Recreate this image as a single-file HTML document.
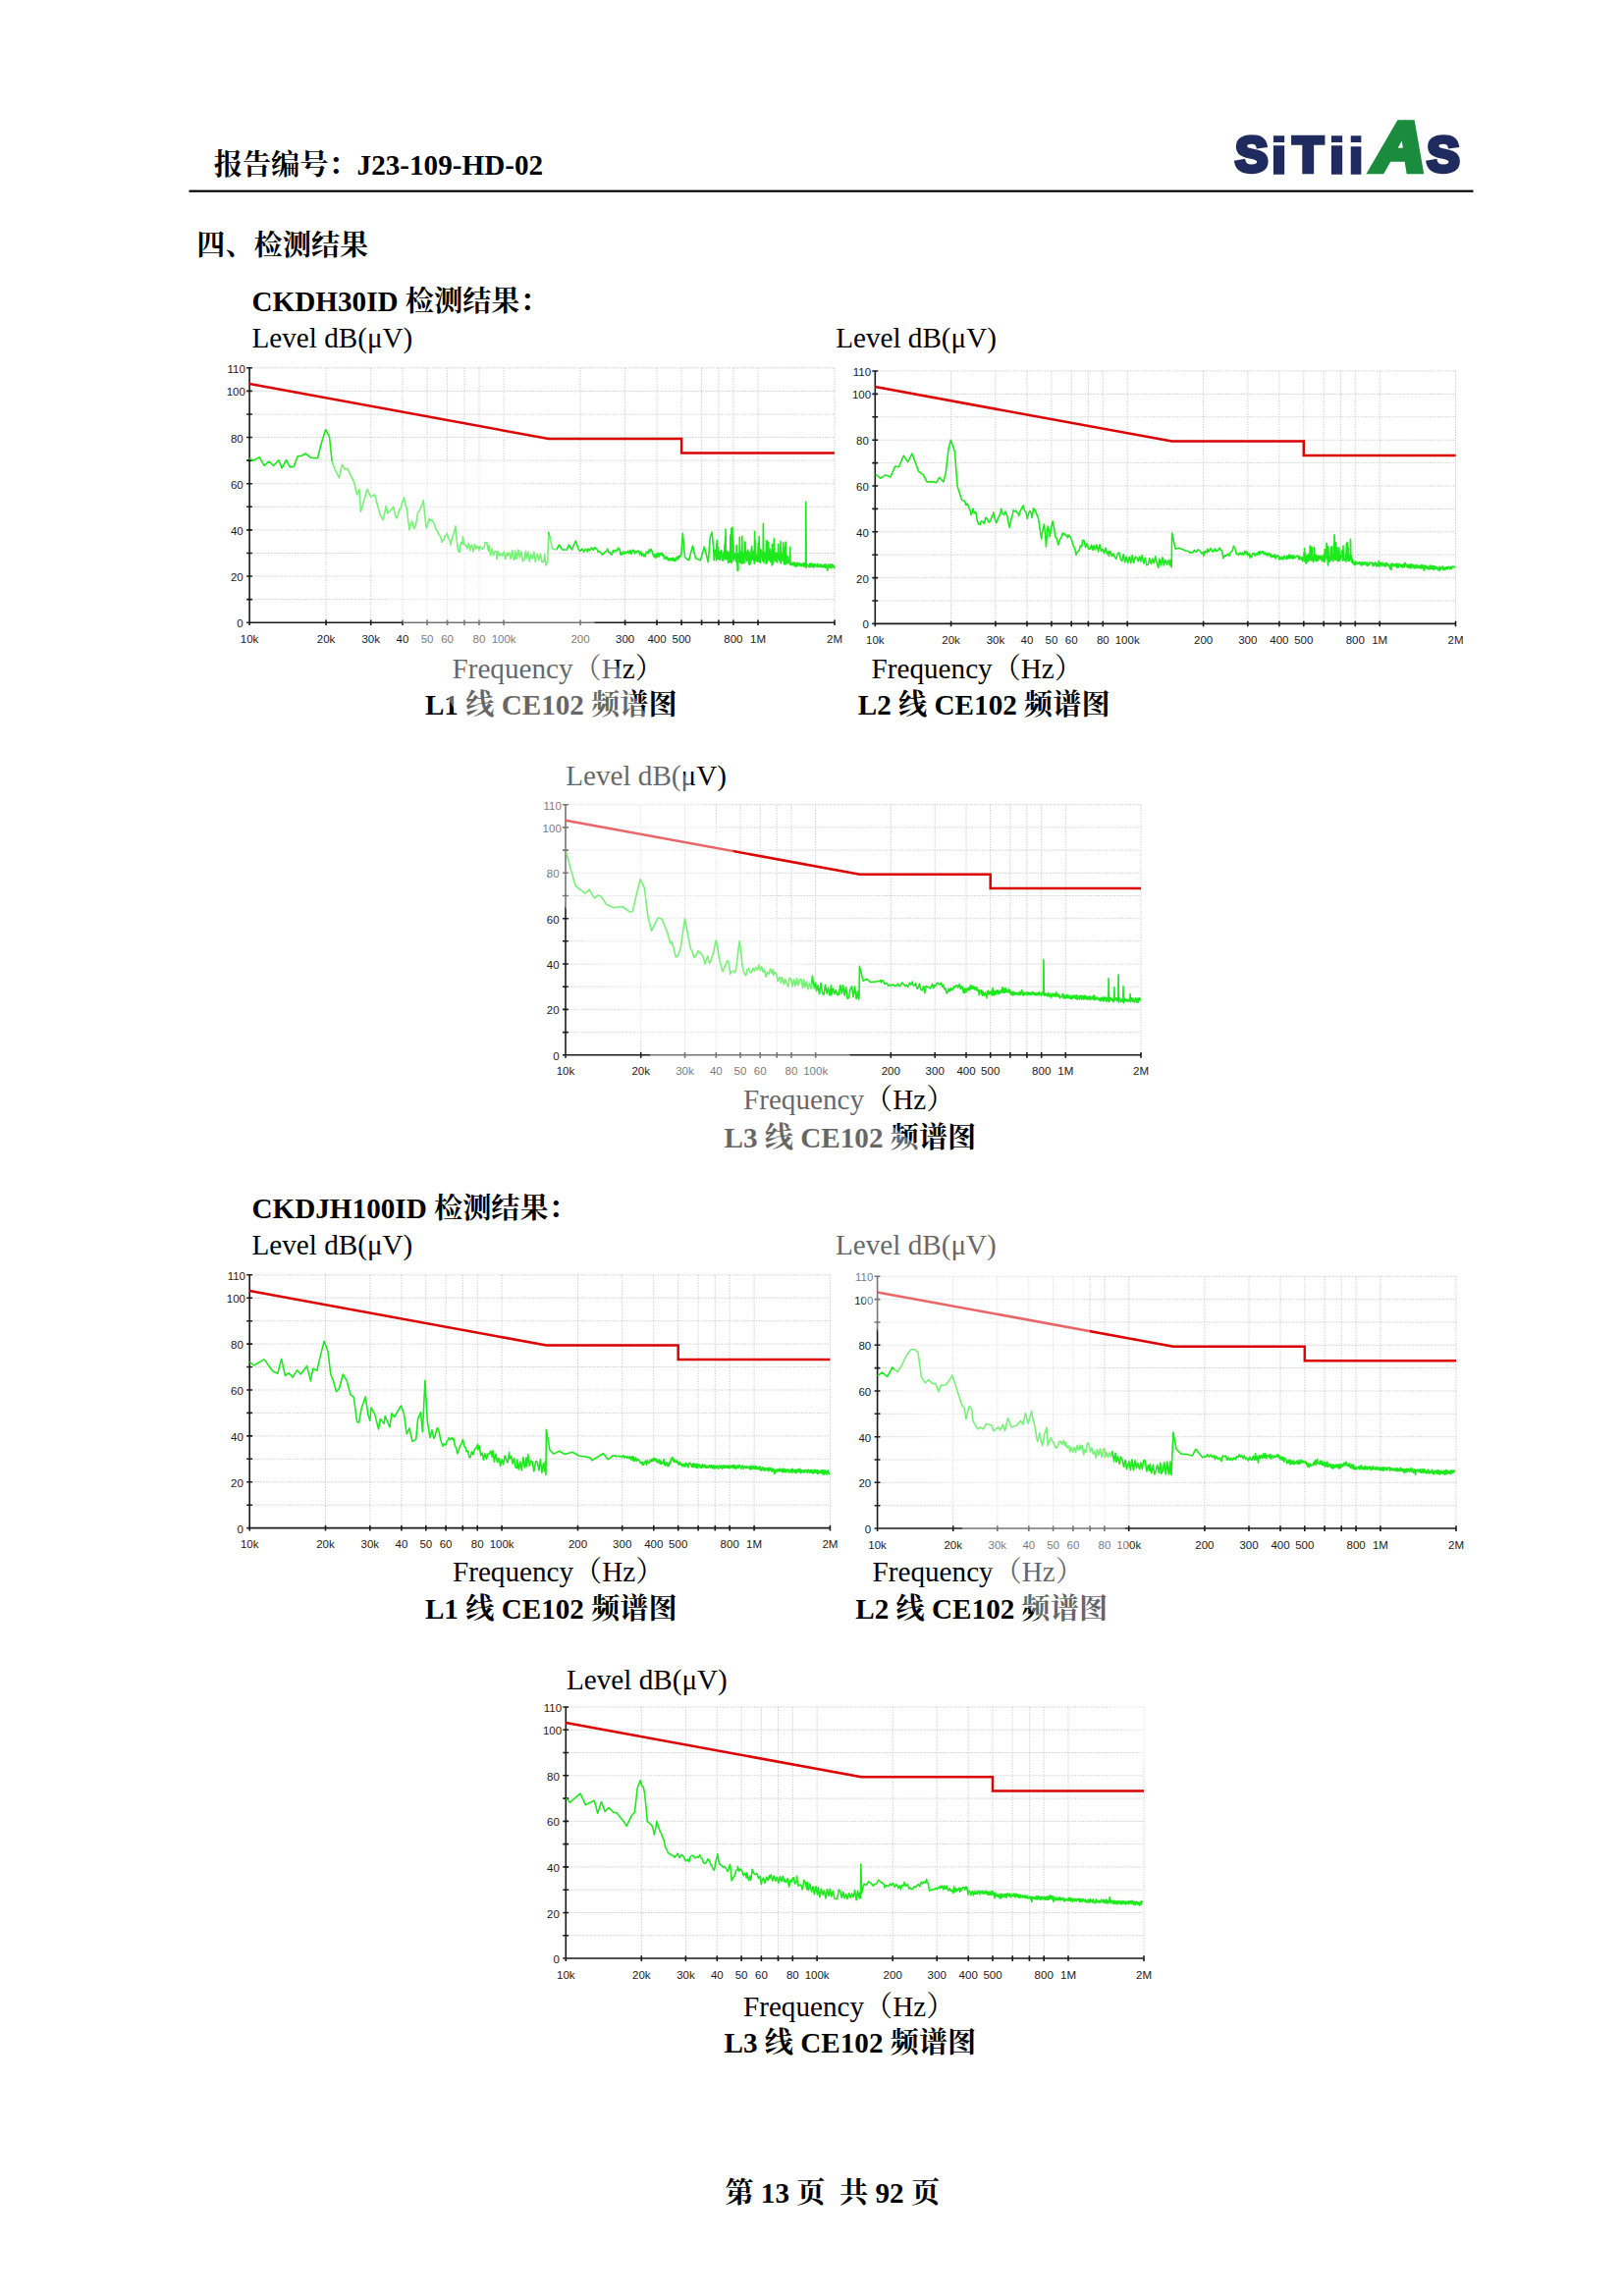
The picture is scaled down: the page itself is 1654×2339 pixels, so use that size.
<!DOCTYPE html>
<html lang="zh-CN"><head><meta charset="utf-8"><title>报告编号：J23-109-HD-02</title>
<style>html,body{margin:0;padding:0;background:#fff;}body{width:1654px;height:2339px;overflow:hidden;}svg{display:block;}</style>
</head><body>
<svg width="1654" height="2339" viewBox="0 0 1654 2339">
<text x="217.8" y="177.5" font-family='"Liberation Serif", "Noto Serif CJK SC", serif' font-size="29.17" font-weight="bold" fill="#000" >报告编号：<tspan font-family='"Liberation Serif", serif'>J23-109-HD-02</tspan></text>
<rect x="192.5" y="193.6" width="1308" height="2.2" fill="#000"/>
<text x="200.3" y="259.5" font-family='"Liberation Serif", "Noto Serif CJK SC", serif' font-size="29.17" font-weight="bold" fill="#000" >四、检测结果</text>
<text x="256.5" y="316.6" font-family='"Liberation Serif", "Noto Serif CJK SC", serif' font-size="29.17" font-weight="bold" fill="#000" >CKDH30ID 检测结果：</text>
<text x="256.5" y="1240.8" font-family='"Liberation Serif", "Noto Serif CJK SC", serif' font-size="29.17" font-weight="bold" fill="#000" >CKDJH100ID 检测结果：</text>
<text x="256.5" y="353.7" font-family='"Liberation Serif", "Noto Serif CJK SC", serif' font-size="29.17" font-weight="normal" fill="#000" >Level dB(μV)</text>
<text x="851.2" y="353.9" font-family='"Liberation Serif", "Noto Serif CJK SC", serif' font-size="29.17" font-weight="normal" fill="#000" >Level dB(μV)</text>
<text x="576.2" y="799.7" font-family='"Liberation Serif", "Noto Serif CJK SC", serif' font-size="29.17" font-weight="normal" fill="#000" >Level dB(μV)</text>
<text x="256.5" y="1277.7" font-family='"Liberation Serif", "Noto Serif CJK SC", serif' font-size="29.17" font-weight="normal" fill="#000" >Level dB(μV)</text>
<text x="851.0" y="1277.7" font-family='"Liberation Serif", "Noto Serif CJK SC", serif' font-size="29.17" font-weight="normal" fill="#000" >Level dB(μV)</text>
<text x="577.0" y="1720.8" font-family='"Liberation Serif", "Noto Serif CJK SC", serif' font-size="29.17" font-weight="normal" fill="#000" >Level dB(μV)</text>
<text x="460.5" y="690.7" font-family='"Liberation Serif", "Noto Serif CJK SC", serif' font-size="29.17" font-weight="normal" fill="#000" >Frequency（Hz）</text>
<text x="887.6" y="690.7" font-family='"Liberation Serif", "Noto Serif CJK SC", serif' font-size="29.17" font-weight="normal" fill="#000" >Frequency（Hz）</text>
<text x="757.0" y="1130.3" font-family='"Liberation Serif", "Noto Serif CJK SC", serif' font-size="29.17" font-weight="normal" fill="#000" >Frequency（Hz）</text>
<text x="461.0" y="1610.7" font-family='"Liberation Serif", "Noto Serif CJK SC", serif' font-size="29.17" font-weight="normal" fill="#000" >Frequency（Hz）</text>
<text x="888.6" y="1610.7" font-family='"Liberation Serif", "Noto Serif CJK SC", serif' font-size="29.17" font-weight="normal" fill="#000" >Frequency（Hz）</text>
<text x="757.0" y="2053.8" font-family='"Liberation Serif", "Noto Serif CJK SC", serif' font-size="29.17" font-weight="normal" fill="#000" >Frequency（Hz）</text>
<text x="432.9" y="728.3" font-family='"Liberation Serif", "Noto Serif CJK SC", serif' font-size="29.17" font-weight="bold" fill="#000" >L1 线 CE102 频谱图</text>
<text x="873.8" y="728.3" font-family='"Liberation Serif", "Noto Serif CJK SC", serif' font-size="29.17" font-weight="bold" fill="#000" >L2 线 CE102 频谱图</text>
<text x="737.5" y="1168.5" font-family='"Liberation Serif", "Noto Serif CJK SC", serif' font-size="29.17" font-weight="bold" fill="#000" >L3 线 CE102 频谱图</text>
<text x="432.9" y="1648.6" font-family='"Liberation Serif", "Noto Serif CJK SC", serif' font-size="29.17" font-weight="bold" fill="#000" >L1 线 CE102 频谱图</text>
<text x="871.3" y="1648.6" font-family='"Liberation Serif", "Noto Serif CJK SC", serif' font-size="29.17" font-weight="bold" fill="#000" >L2 线 CE102 频谱图</text>
<text x="737.5" y="2091.3" font-family='"Liberation Serif", "Noto Serif CJK SC", serif' font-size="29.17" font-weight="bold" fill="#000" >L3 线 CE102 频谱图</text>
<text x="738.4" y="2243.5" font-family='"Liberation Serif", "Noto Serif CJK SC", serif' font-size="29.17" font-weight="bold" fill="#000" xml:space="preserve">第 13 页&#160; 共 92 页</text>
<path d="M332.1 374.8V634.2M377.7 374.8V634.2M410.0 374.8V634.2M435.1 374.8V634.2M455.6 374.8V634.2M473.0 374.8V634.2M488.0 374.8V634.2M513.1 374.8V634.2M591.0 374.8V634.2M636.6 374.8V634.2M669.0 374.8V634.2M694.1 374.8V634.2M714.6 374.8V634.2M731.9 374.8V634.2M746.9 374.8V634.2M772.0 374.8V634.2M850.0 374.8V634.2M254.1 610.6H850.0M254.1 587.0H850.0M254.1 563.5H850.0M254.1 539.9H850.0M254.1 516.3H850.0M254.1 492.7H850.0M254.1 469.1H850.0M254.1 445.5H850.0M254.1 422.0H850.0M254.1 398.4H850.0M254.1 374.8H850.0" stroke="#cacaca" stroke-width="1" stroke-dasharray="1.3 1.4" fill="none"/>
<path d="M254.1 374.8V634.2H850.5M251.1 634.2h5.8M251.1 610.6h5.8M251.1 587.0h5.8M251.1 563.5h5.8M251.1 539.9h5.8M251.1 516.3h5.8M251.1 492.7h5.8M251.1 469.1h5.8M251.1 445.5h5.8M251.1 422.0h5.8M251.1 398.4h5.8M251.1 374.8h5.8M254.1 631.5v5.6M332.1 631.5v5.6M377.7 631.5v5.6M410.0 631.5v5.6M435.1 631.5v5.6M455.6 631.5v5.6M473.0 631.5v5.6M488.0 631.5v5.6M513.1 631.5v5.6M591.0 631.5v5.6M636.6 631.5v5.6M669.0 631.5v5.6M694.1 631.5v5.6M714.6 631.5v5.6M731.9 631.5v5.6M746.9 631.5v5.6M772.0 631.5v5.6M850.0 631.5v5.6" stroke="#1a1a1a" stroke-width="1.6" fill="none"/>
<g font-family='"Liberation Sans", sans-serif' font-size="11.5" fill="#1a1a1a"><text x="247.7" y="639.2" text-anchor="end">0</text><text x="247.7" y="592.0" text-anchor="end">20</text><text x="247.7" y="544.9" text-anchor="end">40</text><text x="247.7" y="497.7" text-anchor="end">60</text><text x="247.7" y="450.5" text-anchor="end">80</text><text x="249.9" y="403.4" text-anchor="end">100</text><text x="249.9" y="379.8" text-anchor="end">110</text><text x="254.1" y="654.8" text-anchor="middle">10k</text><text x="332.1" y="654.8" text-anchor="middle">20k</text><text x="377.7" y="654.8" text-anchor="middle">30k</text><text x="410.0" y="654.8" text-anchor="middle">40</text><text x="435.1" y="654.8" text-anchor="middle">50</text><text x="455.6" y="654.8" text-anchor="middle">60</text><text x="488.0" y="654.8" text-anchor="middle">80</text><text x="513.1" y="654.8" text-anchor="middle">100k</text><text x="591.0" y="654.8" text-anchor="middle">200</text><text x="636.6" y="654.8" text-anchor="middle">300</text><text x="669.0" y="654.8" text-anchor="middle">400</text><text x="694.1" y="654.8" text-anchor="middle">500</text><text x="746.9" y="654.8" text-anchor="middle">800</text><text x="772.0" y="654.8" text-anchor="middle">1M</text><text x="850.0" y="654.8" text-anchor="middle">2M</text></g>
<path d="M254.1 467.0 257.6 469.2 264.3 465.8 269.1 474.4 273.9 470.0 278.6 474.4 284.0 468.7 287.2 476.9 291.6 468.7 295.4 475.9 299.2 475.4 303.1 464.9 307.3 464.3 311.1 462.0 316.8 466.4 323.5 466.8 327.3 451.5 331.7 437.6 335.5 444.8 338.2 470.6 341.6 479.2 345.4 486.8 348.3 473.4 351.2 478.2 354.0 477.3 360.7 491.6 363.6 504.0 366.0 498.3 367.4 521.2 374.1 498.3 377.5 505.9 381.7 504.0 387.0 524.0 390.3 529.8 393.2 515.4 395.0 523.0 400.8 516.3 402.3 524.2 403.7 527.9 405.2 525.1 406.7 519.2 408.2 517.8 409.7 511.2 411.2 509.0 411.3 506.5 412.8 514.1 414.2 517.2 415.7 529.9 417.0 539.8 418.5 533.7 419.9 531.1 421.4 537.7 421.8 538.3 423.3 535.4 424.8 527.7 425.6 521.9 427.1 520.8 428.5 516.9 430.0 514.1 431.3 509.7 432.8 526.2 434.2 537.9 435.7 534.0 437.1 528.1 438.6 530.3 440.1 529.9 440.9 531.3 442.4 533.7 443.9 539.0 445.4 541.0 445.6 541.3 447.1 544.6 448.6 546.9 450.1 552.3 450.4 550.3 451.9 550.1 453.4 545.5 454.9 545.2 455.2 543.4 456.7 548.2 458.2 550.3 459.0 555.0 460.5 547.9 462.0 544.0 463.5 538.0 463.8 535.9 465.3 551.2 466.6 560.9 468.1 562.5 469.6 552.3 471.1 554.4 471.4 546.6 472.9 554.7 474.4 555.4 475.9 558.8 477.4 553.5 478.9 560.9 479.0 557.9 480.5 555.1 482.0 561.8 483.5 554.6 485.0 559.0 486.5 556.1 488.0 560.6 488.6 556.5 490.1 558.4 491.6 559.4 493.1 557.6 494.3 552.5 495.8 552.7 497.3 561.2 498.1 555.7 499.6 565.8 501.1 559.1 502.6 565.6 504.1 561.6 505.6 562.1 505.8 569.5 507.3 561.7 508.8 566.1 510.3 563.9 511.8 566.6 513.3 562.0 514.8 569.6 516.3 563.0 517.2 566.1 518.7 563.1 520.2 569.2 521.7 560.6 523.2 570.1 524.7 569.3 524.9 561.1 526.4 568.9 527.9 560.1 529.4 567.9 530.9 561.9 532.4 571.7 533.9 570.3 535.4 561.3 536.3 568.6 537.8 562.1 539.3 572.1 540.8 565.0 542.3 568.9 543.8 562.3 545.3 572.7 545.9 568.6 547.4 564.4 548.9 570.7 550.4 564.3 551.9 572.5 553.4 572.8 554.9 564.8 556.0 576.0 557.5 572.6 557.7 572.8 558.7 542.2 562.7 559.0 566.6 560.0 569.6 555.0 572.5 560.0 577.4 560.0 579.4 555.0 582.4 560.0 586.3 551.0 589.3 559.6 591.1 561.5 592.9 559.0 594.7 562.2 596.4 559.2 598.2 561.9 599.1 559.0 600.8 560.7 602.4 558.0 604.1 560.3 605.7 557.5 606.0 558.7 607.6 558.7 609.1 562.1 610.7 561.7 611.9 563.1 613.4 565.2 614.9 563.5 616.3 562.4 617.8 561.3 618.8 559.2 620.2 562.9 621.6 562.5 621.8 564.7 623.2 565.1 624.5 560.5 625.9 562.1 627.2 560.1 628.5 561.1 629.7 558.2 631.0 559.2 632.2 565.3 632.6 562.9 633.8 564.8 635.1 561.9 636.3 564.4 637.5 562.3 638.5 563.3 639.7 561.2 640.8 563.8 642.0 560.5 643.1 564.4 644.3 560.6 645.4 560.4 646.5 563.9 647.6 561.5 648.4 562.4 649.5 561.1 650.6 561.5 651.6 564.9 652.7 562.0 653.7 566.3 654.7 563.7 655.8 566.7 656.3 564.9 657.3 567.0 658.3 562.2 659.3 561.9 660.3 563.9 661.3 559.7 662.2 561.5 663.2 559.5 663.2 561.3 664.1 561.3 665.1 565.3 666.0 566.2 666.1 567.5 667.0 564.6 667.9 568.2 668.8 563.9 669.7 567.5 670.6 563.2 671.5 566.9 672.4 563.9 673.3 564.9 674.0 563.3 674.9 566.2 675.7 564.9 676.6 569.2 677.4 567.4 677.9 567.1 678.7 569.8 679.6 567.6 680.4 569.8 681.2 571.1 682.0 568.7 682.8 570.7 683.6 568.8 684.4 570.8 685.2 568.3 686.0 571.3 686.7 569.1 687.5 571.5 687.8 569.0 688.6 570.8 689.3 567.5 690.1 567.2 690.8 569.7 691.6 566.0 692.3 567.7 693.1 565.5 693.7 565.9 695.3 543.2 697.6 567.8 701.6 570.8 705.5 556.0 708.5 568.8 713.4 570.8 717.3 557.0 721.3 572.8 723.3 547.1 725.2 542.2 726.0 552.1 726.7 558.1 727.2 570.7 728.0 561.4 728.7 560.3 729.5 571.2 729.5 567.9 729.8 553.5 730.2 569.4 730.2 563.0 730.0 563.1 730.3 550.3 730.7 564.6 731.0 563.8 731.3 568.3 731.6 557.5 732.0 569.8 731.7 569.3 732.5 564.1 732.7 568.4 733.0 561.9 733.4 569.9 733.2 570.3 734.0 564.3 734.7 560.6 735.5 570.5 736.2 571.1 737.0 562.6 737.7 568.3 738.0 568.4 737.7 565.7 738.0 554.2 738.4 567.2 738.3 556.0 738.7 569.9 738.5 568.4 738.7 563.5 738.5 552.1 738.8 545.8 739.2 553.6 739.0 539.3 739.4 565.0 739.2 561.7 740.0 569.2 740.7 561.6 741.5 573.1 742.2 562.8 743.0 573.0 743.7 562.2 743.6 564.7 743.9 545.1 744.3 566.2 744.5 572.7 744.6 572.1 744.9 538.3 745.3 573.6 745.2 571.8 745.3 566.9 745.6 558.8 745.5 563.7 745.8 545.3 745.6 549.4 745.9 537.0 746.3 550.9 746.2 565.2 746.0 568.4 746.0 561.6 746.7 569.3 746.6 569.6 746.5 564.8 746.8 551.1 747.2 566.3 746.9 561.3 747.3 571.1 747.5 570.5 748.2 563.7 749.0 565.7 749.7 572.2 749.9 567.5 750.2 555.5 750.6 569.0 750.5 565.7 751.2 581.2 751.0 579.9 751.3 573.3 751.2 578.6 751.5 563.9 751.9 580.1 751.7 581.4 752.0 565.2 752.7 572.8 753.0 566.9 753.3 547.1 753.7 568.4 753.5 565.2 753.8 572.1 754.1 563.5 754.5 573.6 754.2 573.1 755.0 561.8 755.7 574.0 755.5 572.6 755.8 546.2 756.2 574.1 756.5 563.4 757.2 570.4 758.0 573.7 758.1 567.2 758.4 552.1 758.8 568.7 758.7 563.7 758.7 563.3 759.0 552.2 759.4 564.8 759.5 562.9 760.0 572.0 760.8 562.6 761.2 569.8 761.5 560.1 761.9 571.3 761.5 570.3 762.2 561.8 763.0 575.0 762.8 574.0 763.1 562.5 763.5 575.5 763.8 565.9 764.5 574.0 764.9 567.3 765.2 558.2 765.6 568.8 765.2 566.3 765.4 568.5 765.7 556.4 766.1 570.0 766.0 570.1 766.8 561.6 767.5 565.2 767.7 571.2 768.0 561.5 768.4 572.7 768.2 574.5 768.3 570.4 768.6 541.2 769.0 571.9 769.0 565.7 769.1 568.1 769.4 551.0 769.8 569.6 769.8 570.4 770.5 565.2 771.2 572.1 772.0 563.3 771.9 566.2 772.2 553.2 772.6 567.7 772.8 572.1 772.6 568.9 772.9 561.7 772.8 565.0 773.1 546.6 773.5 566.5 773.3 570.4 773.5 557.7 774.2 573.5 774.3 566.3 774.6 559.8 775.0 567.8 775.0 560.1 775.8 562.8 776.5 571.3 777.2 565.6 777.1 567.1 777.4 533.3 777.8 568.6 778.0 573.3 778.8 563.3 779.5 564.3 780.2 574.1 780.1 572.6 780.4 551.0 780.8 574.1 780.6 571.5 780.9 553.8 780.9 568.8 781.2 550.7 781.6 570.3 781.3 573.0 781.0 566.7 781.8 570.8 782.5 564.2 782.4 566.4 782.7 552.3 783.1 567.9 783.2 570.7 784.0 566.9 784.0 568.9 784.3 559.6 784.7 570.4 784.8 572.5 784.8 568.1 785.1 561.5 785.5 569.6 785.5 563.2 786.2 576.0 786.1 574.0 786.4 554.2 786.8 575.5 787.0 563.9 787.8 573.3 787.6 569.0 787.9 560.0 788.3 570.5 788.0 567.8 788.3 553.0 788.1 555.6 788.4 548.7 788.8 557.1 788.7 569.3 788.5 565.8 789.2 570.5 789.0 570.2 789.3 563.2 789.7 571.7 790.0 563.6 790.8 570.8 790.7 571.5 791.0 563.1 791.4 573.0 791.5 572.8 792.2 566.9 792.5 565.6 792.8 554.3 793.2 567.1 793.0 565.0 793.8 571.0 794.5 566.7 794.9 572.5 794.8 559.9 795.1 551.4 795.5 561.4 795.2 552.0 795.6 574.0 795.2 572.9 796.0 563.1 796.8 570.7 797.5 563.3 797.5 566.8 797.8 552.8 798.2 568.3 798.2 572.9 799.0 575.0 799.4 567.4 799.7 556.3 800.1 568.9 799.8 567.2 800.0 574.5 799.8 573.2 800.1 552.0 800.5 574.7 800.8 565.0 801.5 573.3 802.2 566.9 803.0 573.7 803.8 571.0 804.5 574.1 804.4 574.0 804.7 557.3 805.1 575.5 805.2 573.5 806.0 575.8 806.8 573.5 807.5 575.6 808.2 572.9 809.0 576.3 809.8 573.3 810.5 577.5 811.2 576.4 812.0 573.1 812.8 576.5 813.5 574.8 814.2 573.6 815.0 576.4 815.8 574.7 816.5 576.6 817.2 574.1 818.0 576.6 818.8 573.5 819.5 577.5 820.2 574.8 820.5 576.9 820.8 511.3 821.2 578.4 821.0 577.6 821.8 575.0 822.5 575.3 823.2 576.7 824.0 577.6 824.8 574.4 825.5 577.8 826.2 573.8 827.0 576.6 827.8 577.8 828.5 574.9 829.2 577.9 830.0 574.5 830.8 575.5 831.5 577.0 832.2 577.7 833.0 574.2 833.8 577.0 834.5 575.5 835.2 577.8 836.0 574.8 836.8 577.1 837.5 577.9 838.2 575.8 839.0 577.7 839.8 575.1 840.5 578.3 841.2 574.9 842.0 577.9 842.8 581.2 843.5 575.0 844.2 575.5 845.0 578.2 845.8 575.1 846.5 578.6 847.2 574.9 848.0 577.6 848.8 575.8 849.5 578.7 850.0 577.0" stroke="#1ee81e" stroke-width="1.6" fill="none" stroke-linejoin="round"/>
<path d="M254.1 391.1 L558.7 447.0 L694.1 447.0 L694.1 461.6 L850.0 461.6" stroke="#dc0000" stroke-width="2.5" fill="none"/>
<path d="M968.6 378.0V635.4M1013.9 378.0V635.4M1046.0 378.0V635.4M1070.9 378.0V635.4M1091.2 378.0V635.4M1108.4 378.0V635.4M1123.3 378.0V635.4M1148.2 378.0V635.4M1225.6 378.0V635.4M1270.8 378.0V635.4M1302.9 378.0V635.4M1327.8 378.0V635.4M1348.2 378.0V635.4M1365.4 378.0V635.4M1380.3 378.0V635.4M1405.2 378.0V635.4M1482.5 378.0V635.4M891.3 612.0H1482.5M891.3 588.6H1482.5M891.3 565.2H1482.5M891.3 541.8H1482.5M891.3 518.4H1482.5M891.3 495.0H1482.5M891.3 471.6H1482.5M891.3 448.2H1482.5M891.3 424.8H1482.5M891.3 401.4H1482.5M891.3 378.0H1482.5" stroke="#cacaca" stroke-width="1" stroke-dasharray="1.3 1.4" fill="none"/>
<path d="M891.3 378.0V635.4H1483.0M888.3 635.4h5.8M888.3 612.0h5.8M888.3 588.6h5.8M888.3 565.2h5.8M888.3 541.8h5.8M888.3 518.4h5.8M888.3 495.0h5.8M888.3 471.6h5.8M888.3 448.2h5.8M888.3 424.8h5.8M888.3 401.4h5.8M888.3 378.0h5.8M891.3 632.7v5.6M968.6 632.7v5.6M1013.9 632.7v5.6M1046.0 632.7v5.6M1070.9 632.7v5.6M1091.2 632.7v5.6M1108.4 632.7v5.6M1123.3 632.7v5.6M1148.2 632.7v5.6M1225.6 632.7v5.6M1270.8 632.7v5.6M1302.9 632.7v5.6M1327.8 632.7v5.6M1348.2 632.7v5.6M1365.4 632.7v5.6M1380.3 632.7v5.6M1405.2 632.7v5.6M1482.5 632.7v5.6" stroke="#1a1a1a" stroke-width="1.6" fill="none"/>
<g font-family='"Liberation Sans", sans-serif' font-size="11.5" fill="#1a1a1a"><text x="884.9" y="640.4" text-anchor="end">0</text><text x="884.9" y="593.6" text-anchor="end">20</text><text x="884.9" y="546.8" text-anchor="end">40</text><text x="884.9" y="500.0" text-anchor="end">60</text><text x="884.9" y="453.2" text-anchor="end">80</text><text x="887.1" y="406.4" text-anchor="end">100</text><text x="887.1" y="383.0" text-anchor="end">110</text><text x="891.3" y="656.0" text-anchor="middle">10k</text><text x="968.6" y="656.0" text-anchor="middle">20k</text><text x="1013.9" y="656.0" text-anchor="middle">30k</text><text x="1046.0" y="656.0" text-anchor="middle">40</text><text x="1070.9" y="656.0" text-anchor="middle">50</text><text x="1091.2" y="656.0" text-anchor="middle">60</text><text x="1123.3" y="656.0" text-anchor="middle">80</text><text x="1148.2" y="656.0" text-anchor="middle">100k</text><text x="1225.6" y="656.0" text-anchor="middle">200</text><text x="1270.8" y="656.0" text-anchor="middle">300</text><text x="1302.9" y="656.0" text-anchor="middle">400</text><text x="1327.8" y="656.0" text-anchor="middle">500</text><text x="1380.3" y="656.0" text-anchor="middle">800</text><text x="1405.2" y="656.0" text-anchor="middle">1M</text><text x="1482.5" y="656.0" text-anchor="middle">2M</text></g>
<path d="M891.7 483.0 896.5 487.2 902.2 483.9 907.0 485.9 911.7 475.0 915.5 475.7 920.3 464.3 924.7 470.6 928.9 462.0 935.6 480.1 940.4 483.9 944.2 491.0 948.9 490.6 953.7 491.6 956.6 486.4 961.0 491.0 963.3 481.1 966.1 457.2 968.4 448.2 972.4 460.1 975.1 495.4 979.5 508.9 981.0 510.1 982.5 510.6 984.0 514.6 985.2 513.0 986.7 516.7 988.2 520.2 989.0 524.5 990.5 521.4 990.9 518.1 992.4 522.8 993.8 521.6 995.3 530.4 996.7 534.1 998.2 534.5 999.5 530.9 1001.0 531.5 1002.4 533.3 1003.9 527.2 1004.3 527.3 1005.8 529.5 1007.2 532.1 1008.7 530.7 1010.2 525.9 1011.7 524.3 1011.9 522.1 1013.4 529.1 1014.8 532.8 1016.3 528.2 1017.8 525.7 1019.3 521.5 1019.6 518.2 1021.1 523.2 1022.4 524.3 1023.9 521.0 1024.3 522.1 1025.8 525.6 1027.3 533.8 1028.2 537.4 1029.7 529.3 1031.2 525.0 1032.0 519.8 1033.5 521.0 1035.0 520.2 1035.8 522.1 1037.3 523.5 1037.7 525.5 1039.2 520.6 1040.6 517.7 1042.1 515.0 1043.4 519.9 1044.9 521.7 1046.3 528.3 1047.8 522.2 1049.2 520.6 1050.7 524.5 1051.1 527.5 1052.6 517.9 1053.0 518.7 1054.5 519.6 1055.8 523.9 1057.3 527.1 1057.7 529.4 1059.2 539.2 1060.6 549.0 1062.1 539.6 1063.5 534.0 1065.0 550.3 1065.4 557.0 1066.9 537.8 1067.3 536.1 1068.8 542.1 1069.2 546.7 1070.7 537.7 1072.1 531.1 1073.6 538.0 1074.9 546.9 1076.4 548.6 1077.8 555.0 1079.3 549.9 1080.8 547.6 1082.3 543.0 1082.6 544.7 1084.1 543.4 1085.6 545.9 1087.1 545.2 1087.3 548.0 1088.8 545.1 1090.2 547.5 1091.7 550.4 1093.1 556.1 1094.6 558.2 1095.9 565.1 1097.4 561.9 1098.9 561.3 1100.4 556.0 1101.9 556.7 1102.6 550.2 1104.1 550.7 1105.6 557.8 1107.1 553.4 1108.6 559.4 1110.1 559.2 1111.6 555.2 1113.1 560.5 1114.0 555.9 1115.5 559.9 1117.0 554.9 1118.5 561.9 1120.0 554.9 1121.5 561.6 1123.0 559.1 1124.5 563.4 1126.0 558.2 1127.5 564.2 1129.0 561.6 1129.3 566.4 1130.8 561.5 1132.3 566.4 1133.8 563.9 1135.3 567.3 1136.8 569.4 1138.3 563.9 1139.8 563.0 1141.3 569.6 1142.7 571.5 1144.2 564.8 1145.7 572.9 1147.2 567.0 1148.7 573.4 1150.2 567.4 1151.7 573.7 1153.2 565.6 1154.7 573.3 1156.2 567.3 1157.7 567.9 1159.2 571.8 1160.7 567.0 1161.8 572.1 1163.3 565.6 1164.8 574.0 1166.3 568.4 1167.8 575.8 1169.3 575.1 1170.8 568.8 1172.3 574.5 1173.8 569.1 1175.3 573.7 1176.8 566.7 1178.3 574.4 1179.8 578.3 1180.9 569.2 1182.4 575.8 1183.9 567.9 1185.4 576.0 1186.9 570.5 1188.4 575.0 1189.9 570.7 1191.4 575.9 1192.0 570.2 1193.2 578.0 1193.6 543.0 1197.2 559.2 1201.0 558.2 1203.2 559.3 1205.4 560.0 1207.6 561.3 1209.7 561.2 1211.8 563.3 1212.4 562.4 1214.4 563.2 1216.4 560.6 1218.4 562.4 1220.3 559.8 1222.0 561.1 1223.9 564.1 1225.7 562.2 1225.8 566.1 1227.6 561.4 1229.4 563.0 1229.6 559.3 1231.3 562.0 1233.0 558.6 1234.7 562.0 1236.4 561.6 1237.3 559.0 1238.9 561.5 1240.5 560.6 1242.1 558.1 1243.0 559.8 1244.5 561.2 1245.9 568.7 1247.4 565.7 1248.9 566.3 1250.3 564.4 1251.8 566.3 1252.5 563.4 1253.9 562.4 1255.3 560.8 1256.4 556.2 1257.8 558.6 1259.1 564.3 1260.2 564.1 1261.5 565.4 1262.8 563.0 1264.1 565.1 1265.4 562.9 1266.6 565.1 1267.9 561.4 1269.1 564.2 1269.7 561.7 1270.9 565.7 1272.1 563.7 1273.3 568.3 1273.5 565.4 1274.7 567.6 1275.8 564.0 1277.0 563.6 1278.1 566.3 1279.2 563.9 1280.4 565.1 1281.5 562.3 1282.5 564.8 1283.1 561.5 1284.2 564.0 1285.2 561.8 1286.3 561.8 1287.3 564.6 1288.4 563.2 1289.4 565.3 1290.4 563.6 1291.4 566.3 1292.4 563.6 1293.4 564.9 1294.4 567.5 1294.5 564.7 1295.5 567.6 1296.4 565.9 1297.4 567.7 1298.3 565.0 1299.3 569.1 1300.2 566.7 1301.1 565.9 1302.0 566.4 1302.9 570.1 1303.8 567.1 1304.1 569.3 1305.0 569.5 1305.9 567.5 1306.8 570.0 1307.6 566.7 1308.5 566.5 1309.3 569.2 1310.2 569.5 1311.0 566.3 1311.9 569.1 1312.7 565.7 1313.5 565.1 1313.6 568.9 1314.4 565.9 1315.2 568.5 1316.0 566.0 1316.8 569.2 1317.6 565.8 1318.4 568.2 1319.2 568.3 1320.0 567.3 1320.8 566.2 1321.5 566.4 1322.3 566.3 1323.0 570.1 1323.8 566.9 1324.5 569.2 1325.1 569.7 1325.8 567.7 1326.6 571.6 1327.0 567.6 1327.8 570.8 1327.8 569.4 1328.1 562.6 1328.5 570.9 1328.5 568.0 1328.3 568.4 1328.6 558.5 1329.0 569.9 1329.2 572.5 1329.5 572.6 1329.8 564.4 1330.2 574.1 1330.0 572.6 1330.8 572.9 1331.5 566.0 1332.2 572.0 1332.3 569.9 1332.6 564.7 1333.0 571.4 1333.0 568.0 1333.8 570.1 1333.9 567.1 1334.2 556.0 1334.6 568.6 1334.5 565.0 1334.9 569.6 1335.2 564.3 1335.6 571.1 1335.2 570.3 1335.4 565.6 1335.7 557.2 1336.1 567.1 1335.7 565.6 1336.0 557.5 1336.4 567.1 1336.0 565.4 1336.8 567.2 1337.5 572.7 1338.2 565.5 1338.2 567.0 1338.5 557.7 1338.9 568.5 1339.0 570.6 1339.8 564.9 1340.5 571.8 1341.2 566.1 1342.0 571.5 1342.8 566.2 1343.5 569.7 1344.2 566.2 1345.0 569.5 1345.8 566.2 1346.5 571.8 1347.2 567.0 1348.0 569.9 1347.7 569.8 1348.0 565.1 1348.1 571.1 1348.4 567.0 1348.8 572.6 1348.4 571.3 1348.8 567.4 1349.0 569.5 1349.3 559.8 1349.7 571.0 1349.5 570.3 1350.2 565.5 1350.7 566.7 1351.0 554.2 1351.4 568.2 1351.0 566.7 1351.0 566.5 1350.9 557.9 1351.2 553.4 1351.6 559.4 1351.3 554.9 1351.7 568.0 1351.8 566.1 1352.5 576.0 1352.6 571.0 1352.5 562.5 1352.8 556.8 1353.2 564.0 1352.9 560.0 1353.3 572.5 1353.2 566.0 1354.0 572.2 1354.8 566.7 1355.0 569.4 1355.3 558.2 1355.7 570.9 1355.5 570.5 1356.2 569.3 1356.1 567.8 1356.4 556.9 1356.8 569.3 1356.5 566.3 1356.8 557.0 1357.2 567.8 1357.0 565.3 1357.8 571.7 1358.5 565.7 1358.7 566.5 1359.0 560.1 1358.9 563.3 1358.8 554.5 1359.1 544.9 1359.5 556.0 1359.2 552.8 1359.6 564.8 1359.4 568.0 1359.2 566.8 1360.0 570.3 1360.0 568.4 1360.3 555.7 1360.2 562.4 1360.5 552.8 1360.9 563.9 1360.7 569.9 1360.8 565.8 1361.5 569.2 1361.7 570.3 1362.0 557.7 1362.4 571.8 1362.2 570.9 1363.0 564.8 1363.8 571.1 1363.6 569.8 1363.9 558.0 1364.3 571.3 1364.5 564.8 1365.2 569.8 1366.0 565.3 1366.8 561.4 1367.5 571.1 1367.7 568.7 1368.0 556.0 1368.4 570.2 1368.2 567.2 1369.0 570.6 1369.8 569.0 1370.2 570.9 1370.5 564.0 1370.9 572.4 1370.5 571.0 1371.2 564.7 1371.1 564.7 1371.4 553.3 1371.8 566.2 1371.6 564.7 1371.9 553.9 1371.7 558.1 1372.0 552.6 1372.4 559.6 1372.3 566.2 1372.0 564.7 1372.3 569.4 1372.6 560.4 1373.0 570.9 1372.8 571.1 1372.8 568.5 1373.1 557.8 1373.5 570.0 1373.5 565.8 1374.2 571.3 1375.0 564.7 1375.2 568.2 1375.5 549.2 1375.9 569.7 1375.8 569.9 1376.0 565.3 1376.8 572.7 1377.5 569.5 1378.2 574.5 1378.5 571.8 1379.2 574.7 1380.0 575.7 1380.8 572.0 1381.5 574.7 1382.2 573.1 1383.0 574.5 1383.8 573.4 1384.5 572.7 1385.2 574.9 1386.0 572.9 1386.8 576.1 1387.5 573.0 1388.2 572.8 1389.0 575.4 1389.8 573.5 1390.0 572.8 1390.8 573.8 1391.5 575.7 1392.2 573.0 1393.0 576.5 1393.8 574.1 1394.5 575.4 1395.2 572.9 1396.0 573.6 1396.8 573.2 1397.5 573.2 1398.2 576.7 1399.0 573.9 1399.8 576.1 1400.5 573.1 1401.2 573.9 1402.0 577.1 1402.8 574.0 1403.5 576.3 1404.2 571.5 1405.0 577.2 1405.8 573.8 1406.5 573.4 1407.2 576.3 1408.0 573.1 1408.8 576.0 1409.0 574.7 1409.8 576.5 1410.5 574.0 1411.2 577.3 1412.0 573.6 1412.8 573.9 1413.5 576.2 1414.2 575.2 1415.0 577.3 1415.8 579.4 1416.5 574.8 1417.2 580.3 1418.0 573.9 1418.8 575.5 1419.5 576.7 1420.2 574.9 1421.0 576.6 1421.8 574.3 1422.5 578.0 1423.2 574.3 1424.0 578.1 1424.8 574.8 1425.5 574.6 1426.2 575.3 1427.0 577.5 1427.8 575.3 1428.0 577.5 1428.8 578.1 1429.5 574.9 1430.2 577.6 1431.0 573.2 1431.8 575.5 1432.5 577.2 1433.2 575.0 1434.0 578.2 1434.8 575.5 1435.5 578.2 1436.2 574.9 1437.0 578.9 1437.8 574.7 1438.5 577.7 1439.2 575.7 1440.0 578.8 1440.8 575.8 1441.5 579.0 1442.2 578.0 1443.0 575.3 1443.8 578.4 1444.5 576.5 1445.2 578.8 1446.0 576.4 1446.8 576.2 1447.2 579.1 1448.0 575.3 1448.7 578.8 1449.5 576.1 1450.2 581.2 1451.0 576.0 1451.7 579.3 1452.5 576.2 1453.2 579.0 1454.0 577.5 1454.7 580.0 1455.5 579.4 1456.2 576.0 1457.0 579.8 1457.7 576.4 1458.5 579.3 1459.2 576.6 1460.0 580.6 1460.7 576.6 1461.5 579.3 1462.2 577.4 1463.0 579.6 1463.7 577.9 1464.5 579.8 1465.2 581.1 1466.0 577.2 1466.3 581.0 1467.0 578.0 1467.8 579.8 1468.5 578.5 1469.3 576.9 1470.0 580.5 1470.8 578.2 1471.5 580.4 1472.3 578.1 1473.0 579.9 1473.8 577.6 1474.5 579.6 1475.3 577.3 1476.0 578.2 1476.8 579.7 1477.5 577.6 1478.3 579.3 1479.0 577.0 1479.8 577.4 1480.5 577.8 1481.3 577.2 1482.0 578.3" stroke="#1ee81e" stroke-width="1.6" fill="none" stroke-linejoin="round"/>
<path d="M891.3 394.1 L1193.5 449.6 L1327.8 449.6 L1327.8 464.1 L1482.5 464.1" stroke="#dc0000" stroke-width="2.5" fill="none"/>
<path d="M652.7 819.7V1074.8M697.5 819.7V1074.8M729.3 819.7V1074.8M754.0 819.7V1074.8M774.2 819.7V1074.8M791.2 819.7V1074.8M806.0 819.7V1074.8M830.7 819.7V1074.8M907.3 819.7V1074.8M952.2 819.7V1074.8M984.0 819.7V1074.8M1008.7 819.7V1074.8M1028.8 819.7V1074.8M1045.9 819.7V1074.8M1060.7 819.7V1074.8M1085.3 819.7V1074.8M1162.0 819.7V1074.8M576.0 1051.6H1162.0M576.0 1028.4H1162.0M576.0 1005.2H1162.0M576.0 982.0H1162.0M576.0 958.8H1162.0M576.0 935.7H1162.0M576.0 912.5H1162.0M576.0 889.3H1162.0M576.0 866.1H1162.0M576.0 842.9H1162.0M576.0 819.7H1162.0" stroke="#cacaca" stroke-width="1" stroke-dasharray="1.3 1.4" fill="none"/>
<path d="M576.0 819.7V1074.8H1162.5M573.0 1074.8h5.8M573.0 1051.6h5.8M573.0 1028.4h5.8M573.0 1005.2h5.8M573.0 982.0h5.8M573.0 958.8h5.8M573.0 935.7h5.8M573.0 912.5h5.8M573.0 889.3h5.8M573.0 866.1h5.8M573.0 842.9h5.8M573.0 819.7h5.8M576.0 1072.1v5.6M652.7 1072.1v5.6M697.5 1072.1v5.6M729.3 1072.1v5.6M754.0 1072.1v5.6M774.2 1072.1v5.6M791.2 1072.1v5.6M806.0 1072.1v5.6M830.7 1072.1v5.6M907.3 1072.1v5.6M952.2 1072.1v5.6M984.0 1072.1v5.6M1008.7 1072.1v5.6M1028.8 1072.1v5.6M1045.9 1072.1v5.6M1060.7 1072.1v5.6M1085.3 1072.1v5.6M1162.0 1072.1v5.6" stroke="#1a1a1a" stroke-width="1.6" fill="none"/>
<g font-family='"Liberation Sans", sans-serif' font-size="11.5" fill="#1a1a1a"><text x="569.6" y="1079.8" text-anchor="end">0</text><text x="569.6" y="1033.4" text-anchor="end">20</text><text x="569.6" y="987.0" text-anchor="end">40</text><text x="569.6" y="940.7" text-anchor="end">60</text><text x="569.6" y="894.3" text-anchor="end">80</text><text x="571.8" y="847.9" text-anchor="end">100</text><text x="571.8" y="824.7" text-anchor="end">110</text><text x="576.0" y="1095.4" text-anchor="middle">10k</text><text x="652.7" y="1095.4" text-anchor="middle">20k</text><text x="697.5" y="1095.4" text-anchor="middle">30k</text><text x="729.3" y="1095.4" text-anchor="middle">40</text><text x="754.0" y="1095.4" text-anchor="middle">50</text><text x="774.2" y="1095.4" text-anchor="middle">60</text><text x="806.0" y="1095.4" text-anchor="middle">80</text><text x="830.7" y="1095.4" text-anchor="middle">100k</text><text x="907.3" y="1095.4" text-anchor="middle">200</text><text x="952.2" y="1095.4" text-anchor="middle">300</text><text x="984.0" y="1095.4" text-anchor="middle">400</text><text x="1008.7" y="1095.4" text-anchor="middle">500</text><text x="1060.7" y="1095.4" text-anchor="middle">800</text><text x="1085.3" y="1095.4" text-anchor="middle">1M</text><text x="1162.0" y="1095.4" text-anchor="middle">2M</text></g>
<path d="M576.7 868.1 581.5 886.3 586.2 902.5 591.0 906.3 595.8 910.1 600.2 906.3 605.3 914.9 609.1 912.0 612.0 913.0 617.7 921.6 625.4 924.8 633.9 923.5 641.6 929.2 644.4 928.3 648.3 911.1 652.1 895.8 656.3 904.4 659.7 932.1 663.5 948.3 670.2 934.9 674.0 935.9 679.8 950.2 682.6 960.7 684.5 959.8 688.3 975.0 690.3 974.1 693.1 966.4 697.5 935.9 700.8 953.2 702.3 961.5 703.6 966.8 705.1 969.5 706.6 974.6 707.4 975.5 708.9 973.6 710.4 970.1 711.2 968.5 712.7 970.7 714.2 971.1 715.1 972.6 716.6 976.2 717.9 982.2 719.4 977.5 720.8 974.0 722.3 980.7 722.7 981.4 724.2 978.2 725.6 973.4 727.1 968.7 728.6 960.5 729.4 958.1 730.9 965.7 732.4 976.3 733.2 979.1 734.7 985.6 736.1 989.6 737.6 986.3 739.0 983.2 740.5 979.1 741.8 979.2 743.3 988.1 743.7 992.4 745.2 989.7 746.7 989.2 748.2 990.8 749.4 988.8 750.9 977.7 752.4 964.0 753.2 958.9 754.7 969.9 756.1 984.7 757.6 990.1 759.0 993.8 760.5 992.1 760.9 987.8 762.4 986.7 763.9 990.6 765.4 990.8 766.9 986.3 768.4 989.3 769.9 985.4 771.4 988.1 772.9 983.0 774.2 988.4 775.7 984.9 777.2 990.4 778.7 988.2 780.0 995.1 781.5 990.3 783.0 992.4 784.5 987.0 786.0 991.4 787.5 987.6 787.6 993.6 789.1 990.5 790.6 991.6 792.1 999.5 793.6 996.0 795.1 995.7 795.2 1001.4 796.7 996.0 798.2 1002.7 799.7 997.6 801.2 1001.9 802.7 1005.1 804.2 996.0 805.7 997.5 807.2 1004.9 808.6 997.8 810.1 1004.2 811.6 996.6 813.1 1003.8 814.6 997.5 816.1 997.8 817.6 1006.6 819.1 998.1 820.0 1005.9 821.5 1000.0 823.0 1007.6 824.5 1001.9 826.0 1007.3 827.5 994.1 829.0 1007.5 830.5 1001.2 831.5 1009.9 833.0 1003.9 834.5 1012.5 836.0 1001.6 837.5 1011.2 839.0 1013.5 840.5 1003.2 842.0 1012.0 843.5 1006.3 845.0 1014.0 846.5 1003.7 846.8 1013.7 848.3 1007.0 849.8 1012.6 851.3 1008.6 852.8 1013.4 854.3 1013.3 855.8 1003.5 857.3 1012.1 858.8 1003.8 860.1 1013.9 861.6 1005.7 863.1 1017.3 864.6 1016.4 866.1 1007.6 867.6 1004.8 869.1 1015.6 870.6 1005.1 872.1 1017.4 873.6 1009.7 874.4 1018.1 875.0 1016.0 875.4 984.4 879.1 999.2 882.9 997.3 886.7 1000.7 888.9 1000.3 891.0 1000.4 893.1 999.5 895.1 999.7 897.1 998.5 897.2 1001.0 899.2 998.8 901.1 1002.5 903.0 1001.4 904.9 1004.3 905.8 1003.2 907.6 1004.2 909.4 1002.9 911.2 1004.5 912.9 1004.1 914.6 1002.1 915.4 1004.5 917.1 1004.1 918.7 1001.1 920.3 1002.5 921.9 1004.6 923.5 1003.4 924.9 1005.5 926.4 1001.3 927.9 1003.2 929.4 1000.0 929.7 1003.2 931.2 1004.2 932.6 1001.7 934.1 1007.2 935.5 1005.2 936.4 1002.1 937.8 1008.0 939.2 1008.7 940.5 1004.7 941.8 1011.6 943.2 1004.4 944.5 1005.5 945.7 1005.7 945.9 1005.6 947.2 1007.0 948.4 1005.0 949.7 1002.4 950.9 1006.6 951.6 1003.5 952.8 1004.7 954.0 1001.6 955.2 1001.4 956.3 1003.0 957.3 1002.3 958.4 1001.2 959.6 1005.3 960.7 1003.1 961.8 1007.8 962.9 1006.8 964.0 1011.9 965.1 1010.9 966.1 1007.3 967.2 1010.0 968.3 1006.7 969.3 1008.7 970.3 1007.1 970.7 1008.0 971.7 1004.9 972.7 1005.9 973.7 1003.8 974.7 1003.7 975.7 1006.2 976.4 1004.6 977.4 1002.3 978.3 1007.5 979.3 1004.9 980.2 1005.4 981.1 1010.9 982.1 1008.0 982.2 1011.5 983.1 1007.0 984.0 1010.6 984.9 1007.0 985.8 1008.7 986.7 1006.0 987.6 1008.5 988.4 1003.8 989.3 1007.5 989.8 1004.0 990.7 1007.1 991.5 1004.9 992.3 1008.0 993.2 1005.7 994.0 1008.4 994.8 1005.8 995.6 1009.3 996.5 1008.6 997.3 1013.7 998.1 1008.7 998.8 1011.8 999.6 1008.7 1000.4 1014.1 1001.2 1012.9 1001.2 1010.3 1002.0 1014.2 1002.7 1013.1 1003.5 1011.2 1004.2 1012.9 1005.0 1016.6 1005.7 1009.5 1006.5 1009.4 1007.2 1013.0 1008.0 1010.8 1008.7 1012.4 1009.5 1009.6 1010.2 1014.0 1011.0 1006.6 1011.7 1013.4 1012.5 1013.8 1012.7 1009.3 1013.5 1009.8 1014.2 1012.9 1015.0 1009.7 1015.7 1008.7 1016.5 1012.5 1017.2 1009.2 1018.0 1012.0 1018.7 1011.9 1019.5 1008.5 1020.2 1010.8 1021.0 1005.9 1021.7 1011.2 1022.5 1007.4 1023.2 1011.4 1024.0 1006.5 1024.2 1010.6 1025.0 1007.9 1025.7 1010.9 1026.5 1010.4 1027.2 1007.9 1028.0 1011.5 1028.7 1008.6 1029.5 1013.1 1030.2 1010.9 1031.0 1013.5 1031.7 1010.3 1031.8 1014.1 1032.5 1010.6 1033.3 1013.2 1034.0 1011.2 1034.8 1013.0 1035.5 1011.7 1036.3 1013.2 1037.0 1011.6 1037.8 1013.5 1038.5 1010.2 1039.3 1013.2 1040.0 1011.4 1040.8 1008.5 1041.5 1013.6 1042.3 1013.9 1043.0 1010.8 1043.2 1013.4 1044.0 1011.7 1044.7 1013.0 1045.5 1011.1 1046.2 1013.6 1047.0 1010.7 1047.7 1012.9 1048.5 1011.4 1049.2 1013.5 1050.0 1011.3 1050.7 1013.1 1051.5 1010.4 1052.2 1011.6 1053.0 1013.3 1053.7 1011.3 1054.5 1013.8 1055.2 1011.9 1056.0 1013.8 1056.7 1011.8 1057.5 1013.5 1058.2 1010.6 1059.0 1013.2 1059.7 1013.0 1060.5 1014.1 1061.2 1011.0 1062.0 1011.0 1062.3 1013.0 1062.6 1011.6 1062.9 977.8 1063.3 1013.1 1063.0 1011.3 1063.8 1014.3 1064.5 1012.1 1065.3 1014.0 1066.0 1012.6 1066.8 1014.6 1067.5 1011.3 1068.3 1015.0 1069.0 1013.8 1069.8 1012.0 1070.5 1016.3 1071.3 1014.1 1072.0 1012.3 1072.8 1015.0 1073.5 1012.8 1074.3 1012.5 1075.0 1015.2 1075.8 1010.7 1076.5 1014.8 1077.3 1012.7 1078.0 1015.4 1078.8 1013.3 1079.5 1016.6 1080.3 1015.7 1081.0 1015.8 1081.8 1014.4 1082.5 1012.4 1083.3 1017.0 1084.0 1013.8 1084.8 1016.7 1085.2 1014.6 1086.0 1016.8 1086.7 1013.4 1087.5 1016.2 1088.2 1014.0 1089.0 1016.5 1089.7 1017.1 1090.5 1014.4 1091.2 1017.7 1092.0 1017.3 1092.7 1014.6 1093.5 1014.3 1094.2 1016.8 1095.0 1014.1 1095.7 1017.3 1096.5 1013.9 1097.2 1018.3 1098.0 1017.1 1098.7 1014.7 1099.5 1017.9 1100.2 1014.9 1101.0 1014.0 1101.7 1018.0 1102.5 1014.7 1103.2 1017.9 1104.0 1014.4 1104.7 1017.4 1105.5 1014.3 1106.2 1017.9 1107.0 1015.4 1107.7 1018.0 1108.1 1015.6 1108.8 1017.6 1109.6 1014.8 1110.3 1018.6 1111.1 1015.7 1111.8 1017.5 1112.6 1015.2 1113.3 1018.0 1114.1 1013.8 1114.8 1018.5 1115.6 1016.0 1116.3 1018.3 1117.1 1016.0 1117.8 1016.2 1118.6 1018.0 1119.3 1018.9 1120.1 1016.9 1120.8 1019.7 1121.6 1016.4 1122.3 1018.9 1123.1 1016.1 1123.8 1020.0 1124.6 1016.1 1125.3 1018.6 1126.1 1016.0 1126.8 1020.0 1127.2 1016.5 1128.0 1019.9 1128.7 1017.4 1128.8 1019.1 1129.1 996.9 1129.5 1020.6 1129.5 1020.5 1130.2 1018.9 1131.0 1016.2 1131.7 1017.3 1132.5 1019.0 1133.2 1017.6 1134.0 1020.7 1134.7 1016.6 1134.6 1017.2 1134.9 1005.9 1135.3 1018.7 1135.5 1019.0 1136.2 1017.4 1137.0 1016.7 1137.7 1019.7 1138.5 1016.6 1138.8 1019.6 1139.1 993.1 1139.5 1021.1 1139.2 1020.0 1140.0 1017.3 1140.7 1017.1 1141.5 1020.7 1142.2 1019.9 1143.0 1017.7 1143.7 1020.5 1143.7 1020.1 1144.0 1004.9 1144.4 1021.6 1144.5 1019.5 1145.2 1016.9 1146.0 1019.7 1146.7 1017.9 1147.5 1019.8 1148.2 1018.2 1149.0 1020.2 1149.7 1019.9 1150.5 1016.7 1150.8 1019.1 1151.1 1012.5 1151.5 1020.6 1151.2 1019.5 1152.0 1019.8 1152.7 1016.7 1153.5 1020.1 1154.2 1017.7 1155.0 1020.2 1155.7 1021.1 1156.5 1016.9 1157.2 1018.4 1158.0 1021.4 1158.7 1017.1 1159.5 1020.9 1160.2 1016.8 1161.0 1017.0 1161.6 1019.2" stroke="#1ee81e" stroke-width="1.6" fill="none" stroke-linejoin="round"/>
<path d="M576.0 835.7 L875.5 890.7 L1008.7 890.7 L1008.7 905.0 L1162.0 905.0" stroke="#dc0000" stroke-width="2.5" fill="none"/>
<path d="M331.5 1298.8V1556.6M376.8 1298.8V1556.6M408.9 1298.8V1556.6M433.8 1298.8V1556.6M454.1 1298.8V1556.6M471.3 1298.8V1556.6M486.2 1298.8V1556.6M511.1 1298.8V1556.6M588.5 1298.8V1556.6M633.7 1298.8V1556.6M665.8 1298.8V1556.6M690.7 1298.8V1556.6M711.1 1298.8V1556.6M728.3 1298.8V1556.6M743.2 1298.8V1556.6M768.1 1298.8V1556.6M845.4 1298.8V1556.6M254.2 1533.2H845.4M254.2 1509.7H845.4M254.2 1486.3H845.4M254.2 1462.9H845.4M254.2 1439.4H845.4M254.2 1416.0H845.4M254.2 1392.5H845.4M254.2 1369.1H845.4M254.2 1345.7H845.4M254.2 1322.2H845.4M254.2 1298.8H845.4" stroke="#cacaca" stroke-width="1" stroke-dasharray="1.3 1.4" fill="none"/>
<path d="M254.2 1298.8V1556.6H845.9M251.2 1556.6h5.8M251.2 1533.2h5.8M251.2 1509.7h5.8M251.2 1486.3h5.8M251.2 1462.9h5.8M251.2 1439.4h5.8M251.2 1416.0h5.8M251.2 1392.5h5.8M251.2 1369.1h5.8M251.2 1345.7h5.8M251.2 1322.2h5.8M251.2 1298.8h5.8M254.2 1553.9v5.6M331.5 1553.9v5.6M376.8 1553.9v5.6M408.9 1553.9v5.6M433.8 1553.9v5.6M454.1 1553.9v5.6M471.3 1553.9v5.6M486.2 1553.9v5.6M511.1 1553.9v5.6M588.5 1553.9v5.6M633.7 1553.9v5.6M665.8 1553.9v5.6M690.7 1553.9v5.6M711.1 1553.9v5.6M728.3 1553.9v5.6M743.2 1553.9v5.6M768.1 1553.9v5.6M845.4 1553.9v5.6" stroke="#1a1a1a" stroke-width="1.6" fill="none"/>
<g font-family='"Liberation Sans", sans-serif' font-size="11.5" fill="#1a1a1a"><text x="247.8" y="1561.6" text-anchor="end">0</text><text x="247.8" y="1514.7" text-anchor="end">20</text><text x="247.8" y="1467.9" text-anchor="end">40</text><text x="247.8" y="1421.0" text-anchor="end">60</text><text x="247.8" y="1374.1" text-anchor="end">80</text><text x="250.0" y="1327.2" text-anchor="end">100</text><text x="250.0" y="1303.8" text-anchor="end">110</text><text x="254.2" y="1577.2" text-anchor="middle">10k</text><text x="331.5" y="1577.2" text-anchor="middle">20k</text><text x="376.8" y="1577.2" text-anchor="middle">30k</text><text x="408.9" y="1577.2" text-anchor="middle">40</text><text x="433.8" y="1577.2" text-anchor="middle">50</text><text x="454.1" y="1577.2" text-anchor="middle">60</text><text x="486.2" y="1577.2" text-anchor="middle">80</text><text x="511.1" y="1577.2" text-anchor="middle">100k</text><text x="588.5" y="1577.2" text-anchor="middle">200</text><text x="633.7" y="1577.2" text-anchor="middle">300</text><text x="665.8" y="1577.2" text-anchor="middle">400</text><text x="690.7" y="1577.2" text-anchor="middle">500</text><text x="743.2" y="1577.2" text-anchor="middle">800</text><text x="768.1" y="1577.2" text-anchor="middle">1M</text><text x="845.4" y="1577.2" text-anchor="middle">2M</text></g>
<path d="M254.2 1387.2 258.6 1391.0 269.1 1384.9 277.7 1396.8 282.8 1399.2 286.6 1384.4 290.5 1401.5 294.3 1398.7 298.1 1403.1 302.5 1395.8 306.3 1400.0 312.6 1391.6 316.4 1406.9 318.7 1394.3 322.9 1396.2 326.0 1382.4 330.2 1366.2 334.0 1376.7 336.8 1400.0 339.3 1406.3 342.6 1417.8 345.4 1414.9 349.3 1400.0 353.1 1406.3 356.9 1420.6 360.3 1423.5 363.6 1448.3 365.5 1449.3 368.3 1434.0 372.2 1422.9 375.0 1441.6 376.9 1447.3 377.9 1434.0 381.7 1440.7 385.5 1455.9 387.4 1445.4 391.2 1450.2 392.2 1442.6 397.0 1454.0 398.9 1439.7 401.7 1443.5 408.4 1432.1 411.3 1439.7 414.2 1460.7 417.0 1455.0 419.9 1468.3 423.7 1466.4 425.6 1445.4 428.5 1438.8 430.4 1458.8 432.9 1406.3 435.2 1447.3 438.0 1464.5 439.9 1456.9 441.8 1465.4 443.3 1462.4 444.8 1455.6 445.6 1454.6 447.1 1458.5 448.6 1465.9 449.5 1468.9 451.0 1473.3 452.3 1470.9 453.8 1472.1 455.3 1467.7 456.8 1466.5 457.0 1464.7 458.5 1466.5 460.0 1464.8 461.5 1466.9 461.9 1465.3 463.4 1473.0 464.9 1475.7 465.7 1480.9 467.2 1477.3 468.7 1472.6 470.2 1470.4 471.4 1466.4 472.9 1473.3 474.4 1475.0 475.0 1478.6 476.5 1478.0 478.0 1484.8 479.0 1484.8 480.5 1478.9 482.0 1481.9 483.5 1476.1 485.0 1475.1 486.5 1471.4 486.7 1476.9 488.2 1473.3 489.7 1482.6 491.2 1480.0 492.4 1487.2 493.9 1480.8 495.4 1486.5 496.9 1481.1 498.4 1481.0 499.9 1478.2 501.4 1484.2 502.0 1477.8 503.5 1489.3 505.0 1481.2 506.5 1489.5 508.0 1485.4 509.5 1492.1 509.6 1493.5 511.1 1486.8 512.6 1491.7 514.1 1483.0 515.6 1487.5 517.1 1490.0 518.6 1479.5 519.1 1486.0 520.6 1483.4 522.1 1491.0 523.6 1485.5 525.1 1495.0 526.6 1495.4 526.8 1487.0 528.3 1496.8 529.8 1489.1 531.3 1497.9 532.8 1484.6 534.3 1494.9 535.8 1485.2 536.3 1493.9 537.8 1481.8 539.3 1493.3 540.8 1488.1 542.3 1489.5 543.8 1498.8 545.3 1490.7 545.9 1488.8 547.4 1489.6 548.9 1498.0 550.4 1486.9 551.9 1500.1 553.4 1490.6 554.9 1498.9 555.4 1488.3 556.0 1502.5 556.4 1456.3 560.0 1477.3 563.9 1481.1 569.6 1478.2 575.3 1481.5 582.9 1479.2 589.6 1483.0 601.1 1484.9 603.0 1487.8 614.4 1480.7 619.2 1486.8 624.0 1483.0 625.3 1483.2 626.6 1482.9 627.9 1483.9 629.1 1483.3 630.4 1483.3 631.6 1484.1 632.9 1483.5 633.5 1484.4 634.7 1482.5 635.9 1485.1 637.1 1483.4 638.2 1485.2 639.4 1483.6 640.5 1485.6 641.7 1483.8 642.8 1487.1 643.9 1483.8 645.0 1488.0 645.0 1483.9 646.1 1488.4 647.2 1484.9 648.2 1488.3 649.3 1486.1 650.3 1487.2 651.4 1488.1 652.4 1490.6 653.4 1489.5 654.4 1492.5 654.5 1489.5 655.5 1492.2 656.5 1490.4 657.5 1488.1 658.4 1492.2 659.4 1487.5 660.3 1490.2 661.3 1490.4 662.2 1487.3 663.2 1488.9 664.1 1486.3 665.0 1488.6 665.9 1485.3 666.0 1487.8 666.9 1486.2 667.8 1488.5 668.7 1486.0 669.6 1490.2 670.4 1489.2 671.3 1486.9 672.1 1491.2 673.0 1487.9 673.6 1491.5 674.4 1489.5 675.3 1490.8 676.1 1486.5 676.9 1492.0 677.7 1493.2 678.5 1489.7 679.3 1490.6 680.1 1493.9 680.9 1490.9 681.2 1493.4 682.0 1489.3 682.8 1490.8 683.5 1485.6 684.1 1487.0 684.9 1484.4 685.6 1488.7 686.4 1486.6 687.1 1489.6 687.9 1487.9 688.6 1489.3 689.4 1487.9 690.1 1490.9 690.9 1489.6 691.6 1492.3 692.4 1489.6 692.7 1489.7 693.5 1492.2 694.2 1491.3 695.0 1493.7 695.7 1491.4 696.5 1493.7 697.2 1491.3 698.0 1493.9 698.7 1490.3 699.5 1493.0 700.2 1491.8 701.0 1494.8 701.7 1490.8 702.2 1490.7 703.0 1490.4 703.7 1492.0 704.5 1494.2 705.2 1491.5 706.0 1494.7 706.7 1490.9 707.5 1493.9 708.2 1491.8 709.0 1495.3 709.7 1491.4 710.5 1495.1 711.2 1491.8 711.8 1494.0 712.5 1492.2 713.3 1495.2 714.0 1493.1 714.8 1495.3 715.5 1491.9 716.3 1494.6 717.0 1492.8 717.8 1492.1 718.5 1495.5 719.3 1493.2 720.0 1495.2 720.8 1493.5 721.5 1495.3 722.3 1492.8 723.0 1493.1 723.8 1495.5 724.5 1492.6 725.3 1493.6 726.0 1495.8 726.8 1492.8 727.5 1496.1 728.3 1493.5 729.0 1495.9 729.8 1493.1 730.5 1494.8 730.9 1494.0 731.6 1496.3 732.4 1493.0 733.1 1494.0 733.9 1495.3 734.6 1492.9 735.4 1496.1 736.1 1495.3 736.9 1492.8 737.6 1495.6 738.4 1493.3 739.1 1495.2 739.9 1493.2 740.6 1495.1 741.4 1493.2 742.1 1495.8 742.9 1492.9 743.6 1495.4 744.4 1493.3 745.1 1494.8 745.9 1492.8 746.6 1495.6 747.4 1492.6 748.1 1495.7 748.9 1493.0 749.6 1496.4 750.0 1494.0 750.8 1495.1 751.5 1492.9 752.2 1495.5 753.0 1492.4 753.8 1493.8 754.5 1494.2 755.2 1496.4 756.0 1493.1 756.8 1493.4 757.5 1496.3 758.2 1494.4 759.0 1493.8 759.8 1495.6 760.5 1493.8 761.2 1495.5 762.0 1494.4 762.8 1494.2 763.5 1496.7 764.2 1493.3 765.0 1496.8 765.8 1496.3 766.5 1493.4 767.2 1496.0 768.0 1493.9 768.8 1496.5 769.0 1493.5 769.8 1496.5 770.5 1494.0 771.2 1496.4 772.0 1496.2 772.8 1494.5 773.5 1497.0 774.2 1494.0 775.0 1497.9 775.8 1498.1 776.5 1494.9 777.2 1495.0 778.0 1498.0 778.8 1495.7 779.5 1497.9 780.2 1495.9 781.0 1497.3 781.8 1495.7 782.5 1498.6 783.2 1495.2 784.0 1497.9 784.8 1495.6 785.5 1496.2 786.2 1499.0 787.0 1496.3 787.8 1499.0 788.1 1496.8 788.9 1501.6 789.6 1498.0 790.4 1499.3 791.1 1496.8 791.9 1498.9 792.6 1497.1 793.4 1498.4 794.1 1496.1 794.9 1499.0 795.6 1498.5 796.4 1496.4 797.1 1499.9 797.9 1496.4 798.6 1499.3 799.4 1496.8 800.1 1500.0 800.9 1497.1 801.6 1498.5 802.4 1496.9 803.1 1499.6 803.9 1500.2 804.6 1497.6 805.4 1499.0 806.1 1496.8 806.9 1500.4 807.2 1496.2 808.0 1499.0 808.7 1497.7 809.5 1500.1 810.2 1497.2 811.0 1500.7 811.7 1497.3 812.5 1499.3 813.2 1496.8 814.0 1499.5 814.7 1496.4 815.5 1500.6 816.2 1497.5 817.0 1499.8 817.7 1497.9 818.5 1500.1 819.2 1497.5 820.0 1499.6 820.7 1498.0 821.5 1497.3 822.2 1500.3 823.0 1498.0 823.7 1497.2 824.5 1500.2 825.2 1498.1 826.0 1497.6 826.3 1500.2 827.0 1497.4 827.8 1500.9 828.5 1500.6 829.3 1497.3 830.0 1500.4 830.8 1497.2 831.5 1499.0 832.3 1501.3 833.0 1497.5 833.8 1501.1 834.5 1498.9 835.3 1500.4 836.0 1497.7 836.8 1500.9 837.5 1497.7 838.3 1502.0 839.0 1497.7 839.8 1502.0 840.5 1498.1 841.3 1498.8 842.0 1502.0 842.8 1498.9 843.5 1497.8 844.3 1501.7 844.4 1500.2" stroke="#1ee81e" stroke-width="1.6" fill="none" stroke-linejoin="round"/>
<path d="M254.2 1315.0 L556.4 1370.5 L690.7 1370.5 L690.7 1385.0 L845.4 1385.0" stroke="#dc0000" stroke-width="2.5" fill="none"/>
<path d="M970.7 1300.3V1557.0M1015.8 1300.3V1557.0M1047.8 1300.3V1557.0M1072.6 1300.3V1557.0M1092.9 1300.3V1557.0M1110.1 1300.3V1557.0M1124.9 1300.3V1557.0M1149.7 1300.3V1557.0M1226.9 1300.3V1557.0M1272.0 1300.3V1557.0M1304.0 1300.3V1557.0M1328.8 1300.3V1557.0M1349.1 1300.3V1557.0M1366.2 1300.3V1557.0M1381.1 1300.3V1557.0M1405.9 1300.3V1557.0M1483.0 1300.3V1557.0M893.6 1533.7H1483.0M893.6 1510.3H1483.0M893.6 1487.0H1483.0M893.6 1463.7H1483.0M893.6 1440.3H1483.0M893.6 1417.0H1483.0M893.6 1393.6H1483.0M893.6 1370.3H1483.0M893.6 1347.0H1483.0M893.6 1323.6H1483.0M893.6 1300.3H1483.0" stroke="#cacaca" stroke-width="1" stroke-dasharray="1.3 1.4" fill="none"/>
<path d="M893.6 1300.3V1557.0H1483.5M890.6 1557.0h5.8M890.6 1533.7h5.8M890.6 1510.3h5.8M890.6 1487.0h5.8M890.6 1463.7h5.8M890.6 1440.3h5.8M890.6 1417.0h5.8M890.6 1393.6h5.8M890.6 1370.3h5.8M890.6 1347.0h5.8M890.6 1323.6h5.8M890.6 1300.3h5.8M893.6 1554.3v5.6M970.7 1554.3v5.6M1015.8 1554.3v5.6M1047.8 1554.3v5.6M1072.6 1554.3v5.6M1092.9 1554.3v5.6M1110.1 1554.3v5.6M1124.9 1554.3v5.6M1149.7 1554.3v5.6M1226.9 1554.3v5.6M1272.0 1554.3v5.6M1304.0 1554.3v5.6M1328.8 1554.3v5.6M1349.1 1554.3v5.6M1366.2 1554.3v5.6M1381.1 1554.3v5.6M1405.9 1554.3v5.6M1483.0 1554.3v5.6" stroke="#1a1a1a" stroke-width="1.6" fill="none"/>
<g font-family='"Liberation Sans", sans-serif' font-size="11.5" fill="#1a1a1a"><text x="887.2" y="1562.0" text-anchor="end">0</text><text x="887.2" y="1515.3" text-anchor="end">20</text><text x="887.2" y="1468.7" text-anchor="end">40</text><text x="887.2" y="1422.0" text-anchor="end">60</text><text x="887.2" y="1375.3" text-anchor="end">80</text><text x="889.4" y="1328.6" text-anchor="end">100</text><text x="889.4" y="1305.3" text-anchor="end">110</text><text x="893.6" y="1577.6" text-anchor="middle">10k</text><text x="970.7" y="1577.6" text-anchor="middle">20k</text><text x="1015.8" y="1577.6" text-anchor="middle">30k</text><text x="1047.8" y="1577.6" text-anchor="middle">40</text><text x="1072.6" y="1577.6" text-anchor="middle">50</text><text x="1092.9" y="1577.6" text-anchor="middle">60</text><text x="1124.9" y="1577.6" text-anchor="middle">80</text><text x="1149.7" y="1577.6" text-anchor="middle">100k</text><text x="1226.9" y="1577.6" text-anchor="middle">200</text><text x="1272.0" y="1577.6" text-anchor="middle">300</text><text x="1304.0" y="1577.6" text-anchor="middle">400</text><text x="1328.8" y="1577.6" text-anchor="middle">500</text><text x="1381.1" y="1577.6" text-anchor="middle">800</text><text x="1405.9" y="1577.6" text-anchor="middle">1M</text><text x="1483.0" y="1577.6" text-anchor="middle">2M</text></g>
<path d="M893.6 1401.9 898.4 1398.1 903.7 1402.5 908.9 1392.9 914.0 1397.7 918.4 1391.0 923.2 1380.5 927.9 1374.8 931.8 1374.8 935.0 1377.7 938.4 1402.5 942.3 1408.8 945.7 1405.7 949.9 1409.6 952.8 1409.2 956.0 1417.8 958.5 1411.1 963.3 1410.7 966.1 1407.3 969.9 1401.2 972.8 1410.1 979.5 1431.1 982.0 1434.0 983.9 1445.8 987.1 1432.5 989.6 1435.0 990.9 1447.3 995.7 1455.9 998.6 1454.0 1001.4 1455.9 1004.3 1450.6 1010.0 1452.1 1011.9 1457.8 1016.7 1454.0 1018.6 1456.9 1021.5 1451.2 1023.4 1457.8 1026.6 1444.5 1030.1 1454.0 1035.8 1452.1 1039.6 1447.3 1041.9 1451.2 1044.4 1439.7 1047.2 1450.2 1050.7 1437.4 1052.2 1447.0 1053.0 1448.6 1054.5 1456.1 1056.0 1465.9 1056.8 1468.4 1058.3 1462.9 1058.7 1459.7 1060.2 1467.7 1061.6 1472.6 1063.1 1465.5 1063.5 1461.2 1065.0 1458.1 1065.9 1454.0 1067.3 1472.9 1068.8 1467.4 1070.2 1464.9 1071.7 1468.1 1073.2 1469.9 1074.7 1474.4 1075.9 1475.1 1077.4 1473.0 1078.7 1468.8 1080.2 1468.4 1081.7 1471.8 1083.2 1467.3 1084.7 1472.9 1085.4 1469.3 1086.9 1474.9 1088.4 1473.0 1089.9 1478.9 1091.1 1474.0 1092.6 1479.0 1094.1 1474.6 1095.6 1479.7 1097.1 1472.4 1098.6 1477.2 1100.1 1472.1 1100.7 1476.2 1102.2 1472.8 1103.7 1481.9 1104.5 1476.8 1106.0 1479.3 1107.4 1470.0 1108.9 1471.0 1110.4 1478.8 1111.9 1474.9 1113.4 1481.2 1114.9 1478.5 1116.0 1485.2 1117.5 1476.5 1119.0 1482.4 1120.5 1476.0 1122.0 1484.3 1123.5 1476.6 1125.0 1475.6 1125.5 1484.7 1127.0 1479.4 1128.5 1484.6 1130.0 1479.8 1131.5 1484.1 1133.0 1478.6 1134.5 1488.6 1136.0 1480.3 1137.0 1489.4 1138.5 1483.8 1140.0 1491.3 1141.5 1484.1 1143.0 1487.0 1144.5 1494.2 1146.0 1487.6 1147.5 1496.6 1148.4 1493.5 1149.9 1488.7 1151.4 1497.6 1152.9 1486.8 1154.4 1497.8 1155.9 1487.9 1157.4 1495.7 1158.9 1490.6 1160.4 1496.5 1161.8 1489.8 1163.3 1496.7 1164.8 1487.6 1166.3 1488.0 1167.8 1499.0 1169.3 1492.6 1170.8 1498.2 1171.3 1491.2 1172.8 1500.6 1174.3 1492.4 1175.8 1502.0 1177.3 1498.0 1178.8 1492.3 1180.3 1500.1 1181.8 1490.4 1182.8 1501.4 1184.3 1498.3 1185.8 1489.7 1187.3 1501.9 1188.8 1489.1 1190.3 1501.8 1191.8 1489.1 1192.3 1500.0 1193.0 1502.5 1194.9 1459.1 1198.1 1476.3 1202.9 1481.1 1208.6 1481.5 1214.4 1483.0 1217.8 1476.3 1224.9 1484.9 1226.7 1483.8 1228.5 1483.9 1229.6 1481.5 1231.4 1484.2 1233.1 1482.0 1234.8 1484.5 1236.5 1482.7 1237.3 1486.6 1238.9 1483.7 1240.6 1486.5 1242.1 1485.2 1243.7 1487.6 1243.9 1488.5 1245.4 1482.9 1246.8 1483.9 1248.3 1483.1 1249.7 1487.3 1251.2 1484.6 1252.6 1487.3 1254.0 1485.3 1255.4 1487.7 1256.8 1485.1 1258.2 1486.7 1259.5 1483.6 1260.9 1484.7 1262.1 1481.9 1263.4 1484.4 1264.7 1482.8 1266.0 1485.7 1267.3 1482.9 1268.5 1486.4 1269.7 1485.0 1271.0 1487.1 1271.6 1488.1 1272.8 1484.3 1274.0 1486.5 1275.2 1487.3 1276.3 1483.4 1277.5 1487.5 1278.6 1480.9 1279.3 1487.1 1280.4 1483.8 1281.5 1490.1 1282.6 1482.5 1283.7 1485.5 1284.8 1482.7 1285.9 1485.5 1286.9 1480.9 1288.0 1485.3 1288.8 1480.8 1289.8 1485.6 1290.9 1482.5 1291.9 1482.2 1292.9 1484.6 1293.9 1481.5 1294.5 1486.3 1295.5 1483.4 1296.5 1483.0 1297.4 1485.2 1298.4 1483.0 1299.3 1484.5 1300.3 1483.1 1301.2 1481.6 1302.1 1484.9 1302.2 1482.3 1303.1 1483.8 1304.0 1486.8 1304.9 1484.0 1305.8 1487.4 1306.7 1484.2 1307.6 1489.2 1308.5 1485.4 1309.3 1486.1 1309.8 1486.8 1310.7 1490.6 1311.5 1488.0 1312.3 1490.3 1313.2 1487.0 1314.0 1491.9 1314.8 1487.8 1315.6 1491.0 1316.5 1488.7 1317.3 1491.4 1317.4 1488.1 1318.2 1491.7 1319.0 1489.3 1319.8 1490.6 1320.6 1488.8 1321.3 1491.1 1322.1 1487.6 1322.9 1491.5 1323.6 1491.3 1324.4 1487.4 1325.1 1490.2 1325.9 1487.7 1326.6 1489.6 1327.4 1488.6 1327.9 1490.1 1328.7 1489.3 1329.4 1488.7 1330.2 1491.4 1330.9 1489.9 1331.7 1494.2 1332.4 1490.8 1332.7 1492.1 1333.5 1494.7 1334.2 1491.4 1335.0 1493.3 1335.7 1493.0 1336.5 1492.4 1337.2 1492.6 1338.0 1489.6 1338.7 1491.9 1339.5 1487.5 1340.2 1492.2 1341.0 1488.3 1341.7 1486.6 1342.2 1490.6 1343.0 1490.9 1343.7 1491.5 1344.5 1488.4 1345.2 1491.7 1346.0 1488.2 1346.7 1492.2 1347.5 1489.9 1348.2 1493.0 1349.0 1489.4 1349.7 1493.9 1350.5 1490.4 1351.2 1493.9 1351.8 1489.4 1352.5 1494.1 1353.3 1492.1 1354.0 1493.7 1354.8 1491.2 1355.5 1494.4 1356.3 1495.5 1357.0 1491.9 1357.8 1496.0 1358.5 1492.2 1359.3 1494.9 1360.0 1493.6 1360.8 1492.0 1361.3 1495.0 1362.0 1492.1 1362.8 1492.6 1363.5 1496.0 1364.3 1491.6 1365.0 1495.7 1365.8 1491.9 1366.5 1494.3 1367.3 1491.9 1368.0 1493.6 1368.8 1490.4 1369.5 1491.3 1370.3 1492.8 1370.9 1489.2 1371.7 1491.0 1372.4 1493.4 1373.2 1491.8 1373.9 1493.7 1374.7 1491.1 1375.4 1495.4 1376.2 1494.6 1376.9 1492.0 1377.7 1496.3 1378.4 1492.4 1379.2 1496.2 1379.9 1497.0 1380.4 1494.3 1381.2 1496.8 1381.9 1494.9 1382.7 1496.1 1383.4 1494.9 1384.2 1493.6 1384.9 1496.9 1385.7 1494.6 1386.4 1492.8 1387.2 1496.9 1387.9 1494.4 1388.7 1496.6 1389.4 1496.9 1390.0 1493.6 1390.8 1496.6 1391.5 1494.4 1392.2 1497.1 1393.0 1494.4 1393.8 1496.3 1394.5 1494.8 1395.2 1493.9 1396.0 1497.5 1396.8 1494.9 1397.5 1496.9 1398.2 1493.8 1399.0 1496.7 1399.8 1496.4 1400.5 1495.1 1401.2 1497.2 1402.0 1494.3 1402.8 1496.7 1403.5 1495.4 1404.2 1497.2 1405.0 1494.8 1405.8 1497.9 1406.5 1495.5 1407.2 1497.8 1408.0 1494.5 1408.8 1497.0 1409.0 1498.3 1409.8 1494.8 1410.5 1495.7 1411.2 1497.6 1412.0 1495.0 1412.8 1497.8 1413.5 1496.2 1414.2 1495.1 1415.0 1494.9 1415.8 1498.2 1416.5 1495.8 1417.2 1497.5 1418.0 1495.8 1418.8 1497.7 1419.5 1497.9 1420.2 1496.1 1421.0 1497.9 1421.8 1495.7 1422.5 1498.8 1423.2 1495.7 1424.0 1498.5 1424.8 1496.5 1425.5 1498.4 1426.2 1495.4 1427.0 1498.3 1427.8 1496.6 1428.1 1499.0 1428.8 1496.3 1429.6 1496.9 1430.3 1500.5 1431.1 1496.8 1431.8 1499.6 1432.6 1496.2 1433.3 1499.2 1434.1 1496.6 1434.8 1496.9 1435.6 1499.5 1436.3 1495.7 1437.1 1497.0 1437.8 1499.0 1438.6 1496.1 1439.3 1500.3 1440.1 1499.7 1440.8 1496.9 1441.6 1502.3 1442.3 1497.6 1443.1 1498.6 1443.8 1497.1 1444.6 1498.9 1445.3 1497.3 1446.1 1499.7 1446.8 1496.7 1447.2 1500.4 1448.0 1500.0 1448.7 1496.9 1449.5 1500.4 1450.2 1496.7 1451.0 1499.7 1451.7 1497.9 1452.5 1501.0 1453.2 1498.3 1454.0 1500.4 1454.7 1497.1 1455.5 1501.0 1456.2 1498.5 1457.0 1500.3 1457.7 1499.9 1458.5 1497.3 1459.2 1501.4 1460.0 1498.7 1460.7 1501.6 1461.5 1498.5 1462.2 1498.4 1463.0 1501.0 1463.7 1497.8 1464.5 1501.4 1465.2 1497.9 1466.0 1501.2 1466.3 1502.0 1467.0 1498.5 1467.8 1501.3 1468.5 1498.2 1469.3 1499.5 1470.0 1501.4 1470.8 1498.5 1471.5 1502.1 1472.3 1497.6 1473.0 1501.7 1473.8 1498.1 1474.5 1501.3 1475.3 1498.5 1476.0 1500.5 1476.8 1498.6 1477.5 1501.7 1478.3 1497.8 1479.0 1500.5 1479.8 1498.7 1480.5 1499.9 1481.3 1497.8 1481.6 1499.2" stroke="#1ee81e" stroke-width="1.6" fill="none" stroke-linejoin="round"/>
<path d="M893.6 1316.4 L1194.9 1371.7 L1328.8 1371.7 L1328.8 1386.2 L1483.0 1386.2" stroke="#dc0000" stroke-width="2.5" fill="none"/>
<path d="M653.3 1739.0V1995.0M698.4 1739.0V1995.0M730.3 1739.0V1995.0M755.1 1739.0V1995.0M775.4 1739.0V1995.0M792.5 1739.0V1995.0M807.3 1739.0V1995.0M832.1 1739.0V1995.0M909.2 1739.0V1995.0M954.2 1739.0V1995.0M986.2 1739.0V1995.0M1011.0 1739.0V1995.0M1031.2 1739.0V1995.0M1048.4 1739.0V1995.0M1063.2 1739.0V1995.0M1088.0 1739.0V1995.0M1165.0 1739.0V1995.0M576.3 1971.7H1165.0M576.3 1948.5H1165.0M576.3 1925.2H1165.0M576.3 1901.9H1165.0M576.3 1878.6H1165.0M576.3 1855.4H1165.0M576.3 1832.1H1165.0M576.3 1808.8H1165.0M576.3 1785.5H1165.0M576.3 1762.3H1165.0M576.3 1739.0H1165.0" stroke="#cacaca" stroke-width="1" stroke-dasharray="1.3 1.4" fill="none"/>
<path d="M576.3 1739.0V1995.0H1165.5M573.3 1995.0h5.8M573.3 1971.7h5.8M573.3 1948.5h5.8M573.3 1925.2h5.8M573.3 1901.9h5.8M573.3 1878.6h5.8M573.3 1855.4h5.8M573.3 1832.1h5.8M573.3 1808.8h5.8M573.3 1785.5h5.8M573.3 1762.3h5.8M573.3 1739.0h5.8M576.3 1992.3v5.6M653.3 1992.3v5.6M698.4 1992.3v5.6M730.3 1992.3v5.6M755.1 1992.3v5.6M775.4 1992.3v5.6M792.5 1992.3v5.6M807.3 1992.3v5.6M832.1 1992.3v5.6M909.2 1992.3v5.6M954.2 1992.3v5.6M986.2 1992.3v5.6M1011.0 1992.3v5.6M1031.2 1992.3v5.6M1048.4 1992.3v5.6M1063.2 1992.3v5.6M1088.0 1992.3v5.6M1165.0 1992.3v5.6" stroke="#1a1a1a" stroke-width="1.6" fill="none"/>
<g font-family='"Liberation Sans", sans-serif' font-size="11.5" fill="#1a1a1a"><text x="569.9" y="2000.0" text-anchor="end">0</text><text x="569.9" y="1953.5" text-anchor="end">20</text><text x="569.9" y="1906.9" text-anchor="end">40</text><text x="569.9" y="1860.4" text-anchor="end">60</text><text x="569.9" y="1813.8" text-anchor="end">80</text><text x="572.1" y="1767.3" text-anchor="end">100</text><text x="572.1" y="1744.0" text-anchor="end">110</text><text x="576.3" y="2015.6" text-anchor="middle">10k</text><text x="653.3" y="2015.6" text-anchor="middle">20k</text><text x="698.4" y="2015.6" text-anchor="middle">30k</text><text x="730.3" y="2015.6" text-anchor="middle">40</text><text x="755.1" y="2015.6" text-anchor="middle">50</text><text x="775.4" y="2015.6" text-anchor="middle">60</text><text x="807.3" y="2015.6" text-anchor="middle">80</text><text x="832.1" y="2015.6" text-anchor="middle">100k</text><text x="909.2" y="2015.6" text-anchor="middle">200</text><text x="954.2" y="2015.6" text-anchor="middle">300</text><text x="986.2" y="2015.6" text-anchor="middle">400</text><text x="1011.0" y="2015.6" text-anchor="middle">500</text><text x="1063.2" y="2015.6" text-anchor="middle">800</text><text x="1088.0" y="2015.6" text-anchor="middle">1M</text><text x="1165.0" y="2015.6" text-anchor="middle">2M</text></g>
<path d="M576.7 1832.0 580.5 1836.2 591.0 1827.2 596.3 1838.7 605.3 1834.3 608.7 1847.3 612.4 1835.4 616.2 1845.4 620.0 1841.5 625.0 1846.3 628.2 1846.9 633.9 1853.9 638.3 1860.2 643.5 1849.2 646.4 1846.3 649.2 1821.5 652.1 1813.7 653.7 1818.8 655.3 1821.0 656.3 1825.1 657.9 1839.9 659.3 1855.9 660.8 1856.2 662.0 1858.1 663.5 1858.8 665.0 1862.6 666.4 1868.9 667.9 1862.1 668.9 1855.2 670.4 1860.6 671.9 1864.1 672.1 1865.8 673.6 1867.5 674.6 1871.4 676.1 1874.4 677.6 1881.6 678.8 1883.8 680.3 1887.2 681.8 1888.8 682.6 1888.5 684.1 1890.3 685.6 1890.5 687.1 1892.3 687.4 1890.9 688.9 1890.7 689.9 1888.2 691.4 1890.4 692.2 1892.6 693.7 1889.9 694.5 1889.7 696.0 1891.1 697.5 1894.4 699.0 1895.8 700.5 1894.1 701.7 1896.7 703.2 1891.3 704.6 1890.3 706.1 1890.5 707.6 1892.9 708.4 1892.6 709.9 1891.4 711.4 1892.4 712.8 1889.5 714.3 1893.3 715.8 1894.3 716.0 1897.1 717.5 1898.4 718.9 1898.2 720.4 1895.4 720.8 1893.9 722.3 1895.1 723.8 1899.8 724.6 1899.9 726.1 1903.9 727.5 1905.2 729.0 1896.1 730.5 1890.8 730.7 1888.6 732.2 1897.3 733.2 1899.4 734.7 1900.2 736.2 1901.9 737.7 1901.2 738.0 1902.3 739.5 1903.0 741.0 1906.5 741.8 1905.2 743.3 1899.6 743.7 1900.0 745.2 1916.0 746.7 1912.7 748.2 1910.9 749.7 1905.4 751.2 1905.3 751.3 1901.6 752.8 1906.1 754.3 1904.0 755.8 1906.2 757.3 1910.7 758.8 1908.3 760.3 1912.9 760.9 1907.8 762.4 1915.4 763.9 1911.4 764.7 1915.1 766.2 1904.3 767.7 1908.5 769.2 1909.7 769.5 1909.6 771.0 1908.5 772.5 1913.6 774.0 1911.5 775.5 1919.5 776.1 1915.4 777.6 1913.1 779.1 1918.4 780.6 1912.2 782.1 1915.5 783.6 1910.8 783.8 1913.6 785.3 1909.9 786.8 1916.0 788.3 1911.1 789.8 1916.3 791.3 1912.2 792.8 1918.4 794.3 1911.7 795.8 1916.8 797.3 1911.3 798.8 1917.0 799.1 1914.5 800.6 1917.5 802.1 1913.8 803.6 1922.1 805.1 1915.5 806.6 1916.7 806.7 1914.0 808.2 1912.8 809.7 1919.2 811.2 1916.4 811.5 1911.3 813.0 1921.3 814.3 1920.2 815.8 1920.1 817.3 1925.0 818.8 1915.2 820.3 1918.0 821.8 1924.7 822.0 1917.5 823.5 1925.7 825.0 1919.3 826.5 1926.9 828.0 1921.8 829.5 1929.9 831.0 1921.9 832.5 1929.9 833.4 1922.7 834.9 1932.7 836.4 1924.3 837.9 1930.4 839.4 1925.9 840.9 1933.9 842.4 1924.9 843.9 1931.3 845.4 1924.3 846.8 1931.9 848.3 1926.5 849.8 1933.9 851.3 1934.6 852.8 1934.2 854.3 1925.1 855.8 1926.9 857.3 1933.2 858.8 1927.6 860.1 1933.6 861.6 1929.5 863.1 1934.5 864.6 1928.8 866.1 1933.2 867.6 1929.1 869.1 1932.7 870.6 1925.6 872.1 1935.7 873.6 1926.2 875.1 1933.5 875.4 1928.8 876.4 1934.0 876.8 1899.1 877.6 1928.7 880.0 1919.1 882.3 1920.4 884.6 1916.8 884.8 1916.8 887.0 1918.3 889.2 1921.2 890.5 1919.8 892.6 1919.1 894.7 1915.0 896.8 1917.2 898.8 1918.3 900.7 1920.0 901.0 1923.0 902.9 1920.5 904.8 1921.6 906.7 1919.0 907.7 1920.7 909.5 1918.3 911.3 1922.4 913.1 1919.6 914.8 1923.5 916.5 1921.0 917.3 1924.6 919.0 1920.3 920.6 1921.0 921.1 1917.3 922.7 1921.2 924.3 1919.8 925.9 1924.1 926.8 1922.9 928.3 1924.6 929.9 1923.9 931.3 1921.8 932.8 1922.5 934.3 1920.5 935.4 1919.7 936.8 1921.8 938.2 1917.4 939.6 1919.0 941.0 1916.9 942.3 1918.2 943.7 1914.7 944.0 1917.4 945.3 1918.6 946.6 1926.1 946.8 1925.9 948.1 1925.4 949.4 1925.3 950.6 1924.5 951.8 1924.8 953.1 1923.5 954.3 1924.4 955.5 1922.8 956.7 1923.7 957.3 1921.3 958.5 1923.2 959.6 1921.1 960.8 1924.7 961.9 1921.0 963.0 1924.3 964.1 1921.2 965.0 1924.5 966.1 1926.0 967.2 1923.6 968.2 1926.5 969.3 1925.3 970.3 1927.4 970.7 1928.5 971.7 1921.9 972.8 1927.6 973.8 1923.7 974.8 1926.3 975.8 1925.0 976.8 1923.2 977.7 1927.2 978.3 1923.9 979.3 1925.9 980.2 1922.9 981.2 1922.8 982.1 1922.7 983.0 1925.0 984.0 1922.1 984.9 1924.8 985.0 1922.9 985.9 1930.1 986.0 1926.4 986.9 1926.4 987.8 1927.2 988.7 1930.8 989.6 1927.2 990.4 1926.8 991.3 1930.9 992.2 1927.4 993.0 1929.4 993.6 1926.4 994.4 1929.2 995.3 1929.2 996.1 1926.6 996.9 1926.2 997.7 1929.9 998.6 1927.1 999.4 1926.6 1000.2 1929.0 1001.0 1926.4 1001.7 1928.9 1002.2 1927.2 1003.0 1929.2 1003.8 1926.2 1004.5 1928.7 1005.3 1927.0 1006.0 1930.4 1006.8 1927.2 1007.5 1930.1 1008.3 1927.3 1009.0 1930.4 1009.8 1927.1 1010.5 1930.0 1010.8 1926.2 1011.5 1930.1 1012.3 1928.5 1013.0 1933.6 1013.8 1928.1 1014.5 1931.8 1015.3 1931.5 1016.0 1929.9 1016.8 1932.6 1017.5 1930.1 1018.3 1932.3 1018.4 1934.0 1019.1 1929.3 1019.9 1933.5 1020.6 1929.5 1021.4 1932.3 1022.1 1931.8 1022.9 1929.8 1023.6 1932.7 1024.4 1929.6 1025.2 1933.1 1025.9 1929.0 1026.7 1929.2 1027.4 1931.6 1028.2 1929.2 1028.9 1931.7 1029.7 1932.7 1030.4 1930.0 1031.2 1931.5 1031.8 1931.1 1032.5 1929.2 1033.3 1932.3 1034.0 1932.8 1034.8 1929.2 1035.5 1931.8 1036.3 1929.8 1037.0 1932.9 1037.8 1930.2 1038.5 1933.3 1039.3 1930.4 1040.0 1932.8 1040.8 1931.0 1041.5 1932.9 1042.3 1931.2 1043.0 1931.5 1043.2 1933.1 1044.0 1930.8 1044.7 1933.5 1045.5 1933.2 1046.2 1931.3 1047.0 1934.0 1047.7 1933.7 1048.5 1933.7 1049.2 1932.2 1050.0 1935.1 1050.7 1932.2 1050.9 1937.4 1051.7 1932.5 1052.4 1932.8 1053.2 1934.3 1053.9 1932.8 1054.7 1934.8 1055.4 1931.7 1056.2 1935.0 1056.9 1931.6 1057.7 1934.2 1058.4 1932.0 1059.2 1935.3 1059.9 1932.5 1060.7 1935.0 1061.4 1932.0 1062.2 1934.3 1062.9 1934.7 1063.7 1932.2 1064.4 1935.1 1065.2 1932.6 1065.9 1935.2 1066.7 1932.1 1067.4 1935.3 1068.2 1931.7 1068.9 1934.7 1069.7 1930.7 1070.0 1934.0 1070.8 1931.7 1071.5 1934.8 1072.2 1931.8 1073.0 1937.5 1073.8 1932.8 1074.5 1933.3 1075.2 1935.7 1076.0 1935.6 1076.8 1933.2 1077.5 1935.8 1078.2 1935.0 1079.0 1932.7 1079.8 1935.9 1080.5 1933.9 1081.2 1935.7 1082.0 1933.2 1082.8 1933.4 1083.5 1936.6 1084.2 1936.7 1085.0 1934.2 1085.8 1936.0 1086.5 1935.6 1087.2 1934.3 1088.0 1936.2 1088.8 1933.3 1089.0 1936.0 1089.8 1933.6 1090.5 1936.7 1091.2 1933.9 1092.0 1934.6 1092.8 1937.4 1093.5 1934.6 1094.2 1934.6 1095.0 1936.5 1095.8 1934.4 1096.5 1936.6 1097.2 1934.5 1098.0 1935.1 1098.8 1934.3 1099.5 1937.2 1100.2 1934.3 1101.0 1937.5 1101.8 1935.0 1102.5 1937.0 1103.2 1934.4 1104.0 1935.7 1104.8 1937.2 1105.5 1935.1 1106.2 1937.0 1107.0 1938.1 1107.8 1935.8 1108.1 1937.5 1108.8 1935.1 1109.6 1938.2 1110.3 1934.6 1111.1 1937.0 1111.8 1935.9 1112.6 1938.1 1113.3 1934.7 1114.1 1937.9 1114.8 1938.5 1115.6 1938.8 1116.3 1934.7 1117.1 1937.8 1117.8 1936.0 1118.6 1937.8 1119.3 1936.3 1120.1 1938.2 1120.8 1937.8 1121.6 1935.1 1122.3 1936.4 1123.1 1937.8 1123.8 1935.4 1124.6 1938.3 1125.3 1935.7 1126.1 1938.8 1126.8 1935.3 1127.2 1935.7 1128.0 1939.1 1128.7 1936.3 1129.5 1937.9 1130.2 1932.8 1131.0 1938.6 1131.7 1936.8 1132.5 1936.3 1133.2 1939.1 1134.0 1936.2 1134.7 1939.4 1135.5 1936.4 1136.2 1939.2 1137.0 1936.9 1137.7 1939.9 1138.5 1936.8 1139.2 1938.8 1140.0 1936.4 1140.7 1939.4 1141.5 1937.0 1142.2 1939.9 1143.0 1936.6 1143.7 1939.1 1144.5 1936.9 1145.2 1939.5 1146.0 1937.0 1146.3 1940.0 1147.0 1937.6 1147.8 1939.0 1148.5 1937.2 1149.3 1939.7 1150.0 1936.5 1150.8 1939.0 1151.5 1936.8 1152.3 1939.5 1153.0 1936.3 1153.8 1937.0 1154.5 1940.2 1155.3 1937.3 1156.0 1940.5 1156.8 1937.6 1157.5 1937.2 1158.3 1940.1 1159.0 1937.8 1159.8 1939.9 1160.5 1941.2 1161.3 1937.3 1162.0 1940.1 1162.8 1936.7 1163.5 1938.6" stroke="#1ee81e" stroke-width="1.6" fill="none" stroke-linejoin="round"/>
<path d="M576.3 1755.1 L877.2 1810.2 L1011.0 1810.2 L1011.0 1824.6 L1165.0 1824.6" stroke="#dc0000" stroke-width="2.5" fill="none"/>
<text x="0" y="0" transform="translate(1258.10 174.74) scale(0.5000 0.4911)" font-family='"Liberation Sans", sans-serif' font-weight="bold" font-size="100" fill="#1f2b5e" stroke="#1f2b5e" stroke-width="9" stroke-linejoin="miter">S</text>
<text x="0" y="0" transform="translate(1293.25 176.68) scale(0.6706 0.5173)" font-family='"Liberation Sans", sans-serif' font-weight="bold" font-size="100" fill="#1f2b5e" stroke="#1f2b5e" stroke-width="3" stroke-linejoin="miter">i</text>
<text x="0" y="0" transform="translate(1316.82 175.21) scale(0.5074 0.4974)" font-family='"Liberation Sans", sans-serif' font-weight="bold" font-size="100" fill="#1f2b5e" stroke="#1f2b5e" stroke-width="9" stroke-linejoin="miter">T</text>
<text x="0" y="0" transform="translate(1352.35 176.68) scale(0.6706 0.5173)" font-family='"Liberation Sans", sans-serif' font-weight="bold" font-size="100" fill="#1f2b5e" stroke="#1f2b5e" stroke-width="3" stroke-linejoin="miter">i</text>
<text x="0" y="0" transform="translate(1372.22 176.68) scale(0.6353 0.5173)" font-family='"Liberation Sans", sans-serif' font-weight="bold" font-size="100" fill="#1f2b5e" stroke="#1f2b5e" stroke-width="3" stroke-linejoin="miter">i</text>
<text x="0" y="0" transform="translate(1395.04 174.18) scale(0.7354 0.7052) skewX(-11)" font-family='"Liberation Sans", sans-serif' font-weight="bold" font-size="100" fill="#198c3d" stroke="#198c3d" stroke-width="9" stroke-linejoin="miter">A</text>
<text x="0" y="0" transform="translate(1453.20 174.74) scale(0.5000 0.4911)" font-family='"Liberation Sans", sans-serif' font-weight="bold" font-size="100" fill="#1f2b5e" stroke="#1f2b5e" stroke-width="9" stroke-linejoin="miter">S</text>
<polygon points="310,470 450,700 590,950 700,1140 870,1300 990,1580 1110,1700 1200,1860 1390,1860 1300,1700 1150,1580 1100,1300 900,1140 800,950 640,700 520,470" fill="#fff" fill-opacity="0.4"/>
</svg>
</body></html>
